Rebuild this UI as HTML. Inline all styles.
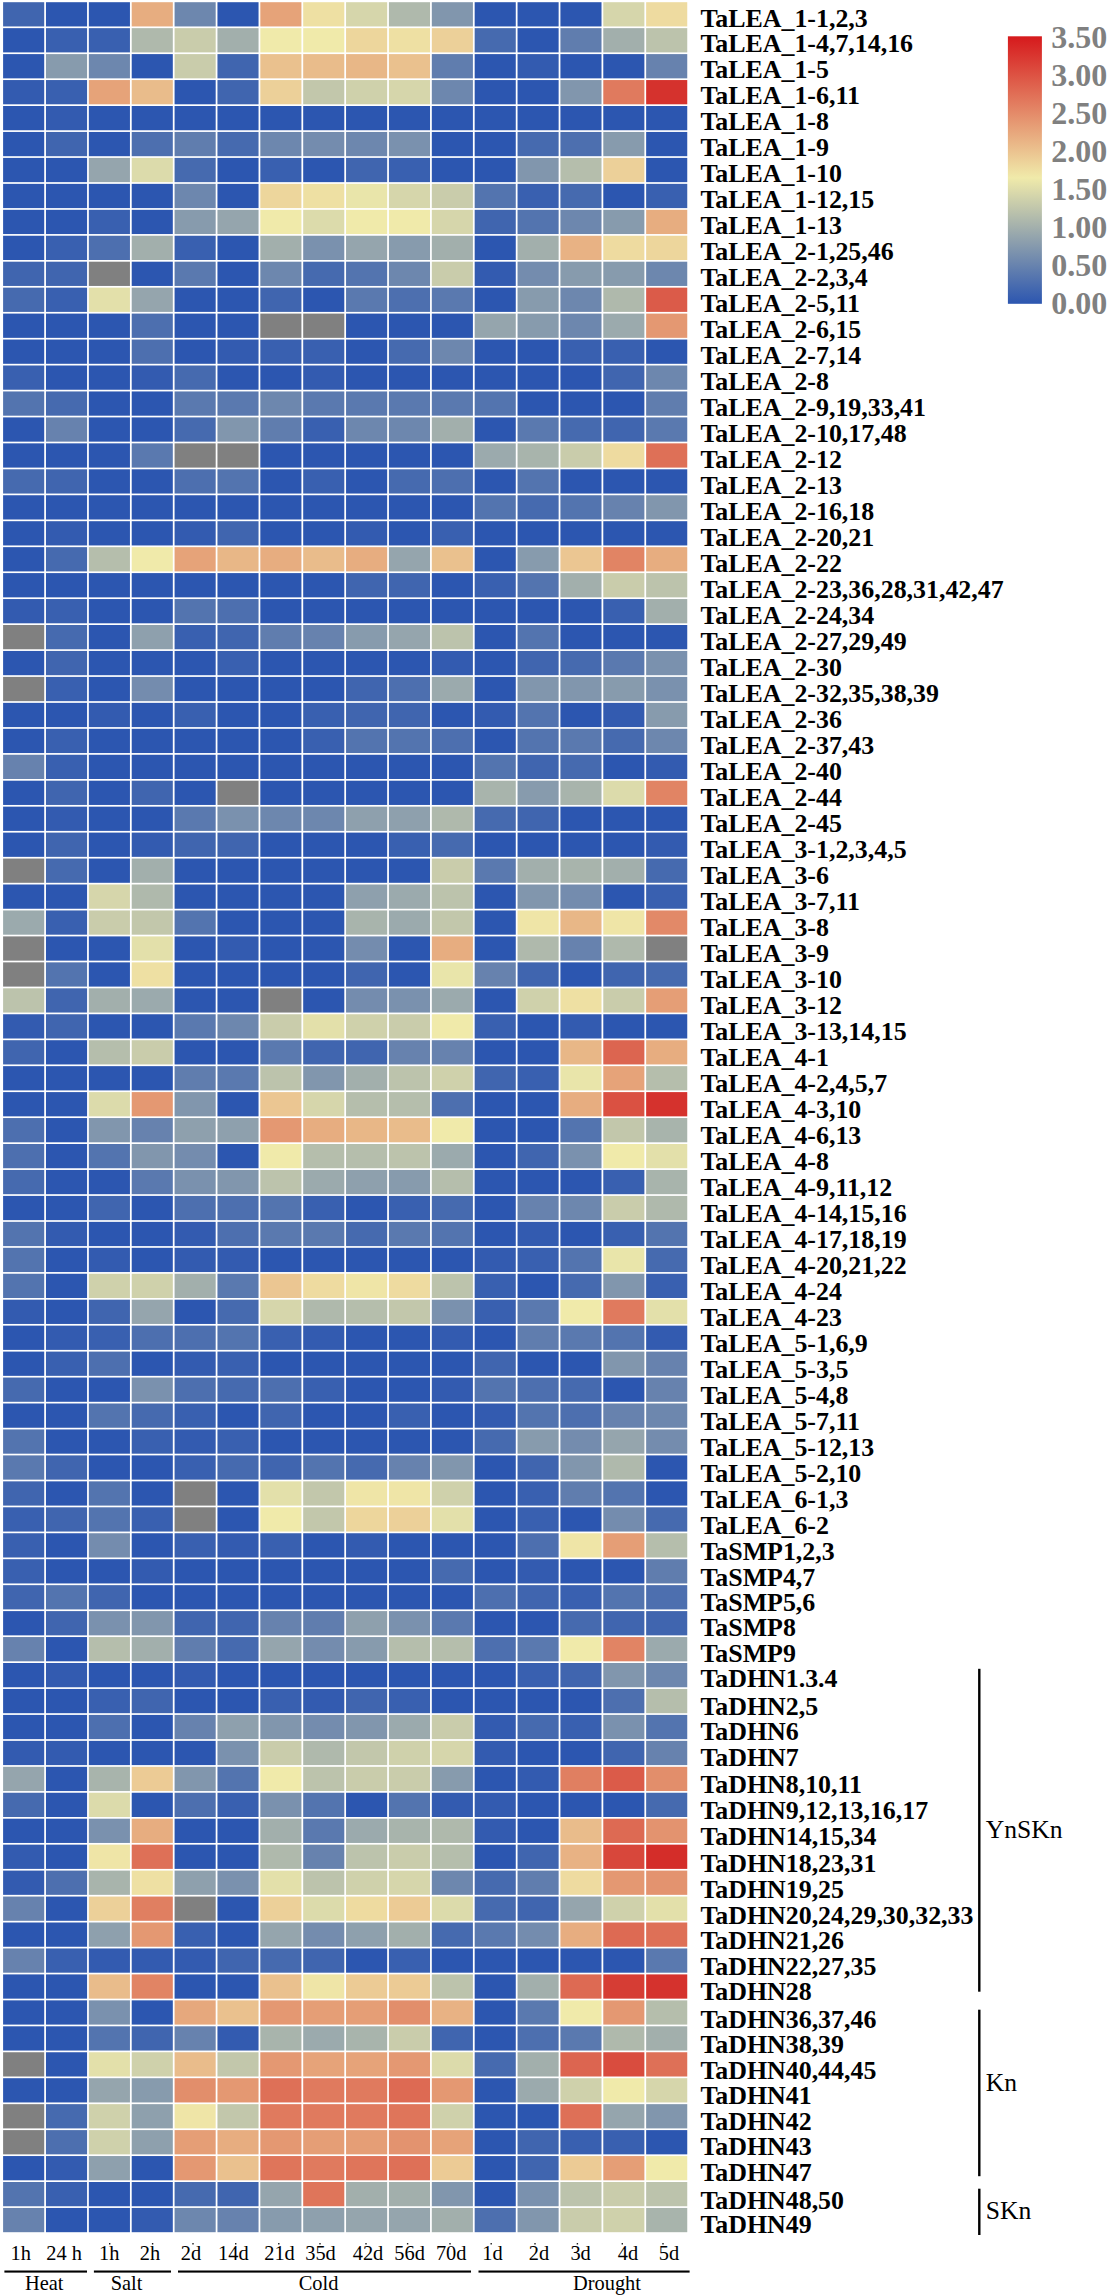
<!DOCTYPE html>
<html><head><meta charset="utf-8"><title>Heatmap</title>
<style>
html,body{margin:0;padding:0;background:#fff;}
svg{display:block;}
.rl{font-family:"Liberation Serif","Times New Roman",serif;font-weight:bold;font-size:25.9px;fill:#000;}
.ax{font-family:"Liberation Serif","Times New Roman",serif;font-size:20.4px;fill:#000;}
.gp{font-family:"Liberation Serif","Times New Roman",serif;font-size:25.6px;fill:#000;}
.cb{font-family:"Liberation Serif","Times New Roman",serif;font-weight:bold;font-size:32px;fill:#808080;}
</style></head><body>
<svg width="1107" height="2295" viewBox="0 0 1107 2295">
<rect width="1107" height="2295" fill="#fff"/>
<defs><linearGradient id="cbg" x1="0" y1="1" x2="0" y2="0"><stop offset="0" stop-color="#2c56b0"/><stop offset="0.471" stop-color="#f0eaaa"/><stop offset="1" stop-color="#d6191c"/></linearGradient></defs>
<g>
<rect x="3.10" y="2.20" width="41.1" height="24.25" fill="#4065af"/><rect x="45.97" y="2.20" width="41.1" height="24.25" fill="#2c56b0"/><rect x="88.84" y="2.20" width="41.1" height="24.25" fill="#2c56b0"/><rect x="131.71" y="2.20" width="41.1" height="24.25" fill="#e7ad80"/><rect x="174.58" y="2.20" width="41.1" height="24.25" fill="#6d87ae"/><rect x="217.45" y="2.20" width="41.1" height="24.25" fill="#2c56b0"/><rect x="260.32" y="2.20" width="41.1" height="24.25" fill="#e6a379"/><rect x="303.19" y="2.20" width="41.1" height="24.25" fill="#eee0a3"/><rect x="346.06" y="2.20" width="41.1" height="24.25" fill="#d6d6ab"/><rect x="388.93" y="2.20" width="41.1" height="24.25" fill="#afb9ac"/><rect x="431.80" y="2.20" width="41.1" height="24.25" fill="#8196ad"/><rect x="474.67" y="2.20" width="41.1" height="24.25" fill="#2c56b0"/><rect x="517.54" y="2.20" width="41.1" height="24.25" fill="#2c56b0"/><rect x="560.41" y="2.20" width="41.1" height="24.25" fill="#2c56b0"/><rect x="603.28" y="2.20" width="41.1" height="24.25" fill="#d6d6ab"/><rect x="646.15" y="2.20" width="41.1" height="24.25" fill="#eedba0"/>
<rect x="3.10" y="28.15" width="41.1" height="24.25" fill="#2c56b0"/><rect x="45.97" y="28.15" width="41.1" height="24.25" fill="#3960b0"/><rect x="88.84" y="28.15" width="41.1" height="24.25" fill="#3960b0"/><rect x="131.71" y="28.15" width="41.1" height="24.25" fill="#afb9ac"/><rect x="174.58" y="28.15" width="41.1" height="24.25" fill="#c9ccab"/><rect x="217.45" y="28.15" width="41.1" height="24.25" fill="#a2afac"/><rect x="260.32" y="28.15" width="41.1" height="24.25" fill="#f0eaaa"/><rect x="303.19" y="28.15" width="41.1" height="24.25" fill="#f0eaaa"/><rect x="346.06" y="28.15" width="41.1" height="24.25" fill="#edd69c"/><rect x="388.93" y="28.15" width="41.1" height="24.25" fill="#eee0a3"/><rect x="431.80" y="28.15" width="41.1" height="24.25" fill="#ecd099"/><rect x="474.67" y="28.15" width="41.1" height="24.25" fill="#466aaf"/><rect x="517.54" y="28.15" width="41.1" height="24.25" fill="#2c56b0"/><rect x="560.41" y="28.15" width="41.1" height="24.25" fill="#607dae"/><rect x="603.28" y="28.15" width="41.1" height="24.25" fill="#a2afac"/><rect x="646.15" y="28.15" width="41.1" height="24.25" fill="#bcc3ac"/>
<rect x="3.10" y="54.10" width="41.1" height="24.25" fill="#2c56b0"/><rect x="45.97" y="54.10" width="41.1" height="24.25" fill="#879bad"/><rect x="88.84" y="54.10" width="41.1" height="24.25" fill="#6d87ae"/><rect x="131.71" y="54.10" width="41.1" height="24.25" fill="#2c56b0"/><rect x="174.58" y="54.10" width="41.1" height="24.25" fill="#c9ccab"/><rect x="217.45" y="54.10" width="41.1" height="24.25" fill="#4065af"/><rect x="260.32" y="54.10" width="41.1" height="24.25" fill="#eac18e"/><rect x="303.19" y="54.10" width="41.1" height="24.25" fill="#e9bc8b"/><rect x="346.06" y="54.10" width="41.1" height="24.25" fill="#e8b787"/><rect x="388.93" y="54.10" width="41.1" height="24.25" fill="#eac18e"/><rect x="431.80" y="54.10" width="41.1" height="24.25" fill="#607dae"/><rect x="474.67" y="54.10" width="41.1" height="24.25" fill="#2c56b0"/><rect x="517.54" y="54.10" width="41.1" height="24.25" fill="#335bb0"/><rect x="560.41" y="54.10" width="41.1" height="24.25" fill="#2c56b0"/><rect x="603.28" y="54.10" width="41.1" height="24.25" fill="#2c56b0"/><rect x="646.15" y="54.10" width="41.1" height="24.25" fill="#6782ae"/>
<rect x="3.10" y="80.05" width="41.1" height="24.25" fill="#335bb0"/><rect x="45.97" y="80.05" width="41.1" height="24.25" fill="#3960b0"/><rect x="88.84" y="80.05" width="41.1" height="24.25" fill="#e6a379"/><rect x="131.71" y="80.05" width="41.1" height="24.25" fill="#e9bc8b"/><rect x="174.58" y="80.05" width="41.1" height="24.25" fill="#2c56b0"/><rect x="217.45" y="80.05" width="41.1" height="24.25" fill="#4065af"/><rect x="260.32" y="80.05" width="41.1" height="24.25" fill="#ecd099"/><rect x="303.19" y="80.05" width="41.1" height="24.25" fill="#c2c7ab"/><rect x="346.06" y="80.05" width="41.1" height="24.25" fill="#cfd1ab"/><rect x="388.93" y="80.05" width="41.1" height="24.25" fill="#d6d6ab"/><rect x="431.80" y="80.05" width="41.1" height="24.25" fill="#6d87ae"/><rect x="474.67" y="80.05" width="41.1" height="24.25" fill="#2c56b0"/><rect x="517.54" y="80.05" width="41.1" height="24.25" fill="#2c56b0"/><rect x="560.41" y="80.05" width="41.1" height="24.25" fill="#8196ad"/><rect x="603.28" y="80.05" width="41.1" height="24.25" fill="#e07a5e"/><rect x="646.15" y="80.05" width="41.1" height="24.25" fill="#d5322d"/>
<rect x="3.10" y="106.00" width="41.1" height="24.25" fill="#2c56b0"/><rect x="45.97" y="106.00" width="41.1" height="24.25" fill="#335bb0"/><rect x="88.84" y="106.00" width="41.1" height="24.25" fill="#2c56b0"/><rect x="131.71" y="106.00" width="41.1" height="24.25" fill="#2c56b0"/><rect x="174.58" y="106.00" width="41.1" height="24.25" fill="#2c56b0"/><rect x="217.45" y="106.00" width="41.1" height="24.25" fill="#2c56b0"/><rect x="260.32" y="106.00" width="41.1" height="24.25" fill="#2c56b0"/><rect x="303.19" y="106.00" width="41.1" height="24.25" fill="#2c56b0"/><rect x="346.06" y="106.00" width="41.1" height="24.25" fill="#2c56b0"/><rect x="388.93" y="106.00" width="41.1" height="24.25" fill="#2c56b0"/><rect x="431.80" y="106.00" width="41.1" height="24.25" fill="#2c56b0"/><rect x="474.67" y="106.00" width="41.1" height="24.25" fill="#2c56b0"/><rect x="517.54" y="106.00" width="41.1" height="24.25" fill="#2c56b0"/><rect x="560.41" y="106.00" width="41.1" height="24.25" fill="#2c56b0"/><rect x="603.28" y="106.00" width="41.1" height="24.25" fill="#2c56b0"/><rect x="646.15" y="106.00" width="41.1" height="24.25" fill="#2c56b0"/>
<rect x="3.10" y="131.95" width="41.1" height="24.25" fill="#2c56b0"/><rect x="45.97" y="131.95" width="41.1" height="24.25" fill="#4065af"/><rect x="88.84" y="131.95" width="41.1" height="24.25" fill="#2c56b0"/><rect x="131.71" y="131.95" width="41.1" height="24.25" fill="#4d6faf"/><rect x="174.58" y="131.95" width="41.1" height="24.25" fill="#607dae"/><rect x="217.45" y="131.95" width="41.1" height="24.25" fill="#466aaf"/><rect x="260.32" y="131.95" width="41.1" height="24.25" fill="#6d87ae"/><rect x="303.19" y="131.95" width="41.1" height="24.25" fill="#748cae"/><rect x="346.06" y="131.95" width="41.1" height="24.25" fill="#6d87ae"/><rect x="388.93" y="131.95" width="41.1" height="24.25" fill="#7a91ae"/><rect x="431.80" y="131.95" width="41.1" height="24.25" fill="#2c56b0"/><rect x="474.67" y="131.95" width="41.1" height="24.25" fill="#2c56b0"/><rect x="517.54" y="131.95" width="41.1" height="24.25" fill="#466aaf"/><rect x="560.41" y="131.95" width="41.1" height="24.25" fill="#4d6faf"/><rect x="603.28" y="131.95" width="41.1" height="24.25" fill="#879bad"/><rect x="646.15" y="131.95" width="41.1" height="24.25" fill="#2c56b0"/>
<rect x="3.10" y="157.90" width="41.1" height="24.25" fill="#2c56b0"/><rect x="45.97" y="157.90" width="41.1" height="24.25" fill="#2c56b0"/><rect x="88.84" y="157.90" width="41.1" height="24.25" fill="#95a5ad"/><rect x="131.71" y="157.90" width="41.1" height="24.25" fill="#dcdbab"/><rect x="174.58" y="157.90" width="41.1" height="24.25" fill="#466aaf"/><rect x="217.45" y="157.90" width="41.1" height="24.25" fill="#2c56b0"/><rect x="260.32" y="157.90" width="41.1" height="24.25" fill="#3960b0"/><rect x="303.19" y="157.90" width="41.1" height="24.25" fill="#2c56b0"/><rect x="346.06" y="157.90" width="41.1" height="24.25" fill="#4065af"/><rect x="388.93" y="157.90" width="41.1" height="24.25" fill="#3960b0"/><rect x="431.80" y="157.90" width="41.1" height="24.25" fill="#2c56b0"/><rect x="474.67" y="157.90" width="41.1" height="24.25" fill="#2c56b0"/><rect x="517.54" y="157.90" width="41.1" height="24.25" fill="#8196ad"/><rect x="560.41" y="157.90" width="41.1" height="24.25" fill="#b5beac"/><rect x="603.28" y="157.90" width="41.1" height="24.25" fill="#ecd099"/><rect x="646.15" y="157.90" width="41.1" height="24.25" fill="#2c56b0"/>
<rect x="3.10" y="183.85" width="41.1" height="24.25" fill="#2c56b0"/><rect x="45.97" y="183.85" width="41.1" height="24.25" fill="#2c56b0"/><rect x="88.84" y="183.85" width="41.1" height="24.25" fill="#2c56b0"/><rect x="131.71" y="183.85" width="41.1" height="24.25" fill="#2c56b0"/><rect x="174.58" y="183.85" width="41.1" height="24.25" fill="#6d87ae"/><rect x="217.45" y="183.85" width="41.1" height="24.25" fill="#2c56b0"/><rect x="260.32" y="183.85" width="41.1" height="24.25" fill="#edd69c"/><rect x="303.19" y="183.85" width="41.1" height="24.25" fill="#eee0a3"/><rect x="346.06" y="183.85" width="41.1" height="24.25" fill="#e9e5aa"/><rect x="388.93" y="183.85" width="41.1" height="24.25" fill="#d6d6ab"/><rect x="431.80" y="183.85" width="41.1" height="24.25" fill="#c9ccab"/><rect x="474.67" y="183.85" width="41.1" height="24.25" fill="#5374af"/><rect x="517.54" y="183.85" width="41.1" height="24.25" fill="#3960b0"/><rect x="560.41" y="183.85" width="41.1" height="24.25" fill="#466aaf"/><rect x="603.28" y="183.85" width="41.1" height="24.25" fill="#2c56b0"/><rect x="646.15" y="183.85" width="41.1" height="24.25" fill="#3960b0"/>
<rect x="3.10" y="209.80" width="41.1" height="24.25" fill="#2c56b0"/><rect x="45.97" y="209.80" width="41.1" height="24.25" fill="#2c56b0"/><rect x="88.84" y="209.80" width="41.1" height="24.25" fill="#3960b0"/><rect x="131.71" y="209.80" width="41.1" height="24.25" fill="#2c56b0"/><rect x="174.58" y="209.80" width="41.1" height="24.25" fill="#879bad"/><rect x="217.45" y="209.80" width="41.1" height="24.25" fill="#95a5ad"/><rect x="260.32" y="209.80" width="41.1" height="24.25" fill="#f0eaaa"/><rect x="303.19" y="209.80" width="41.1" height="24.25" fill="#dcdbab"/><rect x="346.06" y="209.80" width="41.1" height="24.25" fill="#f0eaaa"/><rect x="388.93" y="209.80" width="41.1" height="24.25" fill="#f0eaaa"/><rect x="431.80" y="209.80" width="41.1" height="24.25" fill="#d6d6ab"/><rect x="474.67" y="209.80" width="41.1" height="24.25" fill="#4065af"/><rect x="517.54" y="209.80" width="41.1" height="24.25" fill="#5374af"/><rect x="560.41" y="209.80" width="41.1" height="24.25" fill="#6d87ae"/><rect x="603.28" y="209.80" width="41.1" height="24.25" fill="#879bad"/><rect x="646.15" y="209.80" width="41.1" height="24.25" fill="#e7ad80"/>
<rect x="3.10" y="235.75" width="41.1" height="24.25" fill="#2c56b0"/><rect x="45.97" y="235.75" width="41.1" height="24.25" fill="#3960b0"/><rect x="88.84" y="235.75" width="41.1" height="24.25" fill="#4d6faf"/><rect x="131.71" y="235.75" width="41.1" height="24.25" fill="#a2afac"/><rect x="174.58" y="235.75" width="41.1" height="24.25" fill="#3960b0"/><rect x="217.45" y="235.75" width="41.1" height="24.25" fill="#2c56b0"/><rect x="260.32" y="235.75" width="41.1" height="24.25" fill="#a2afac"/><rect x="303.19" y="235.75" width="41.1" height="24.25" fill="#7a91ae"/><rect x="346.06" y="235.75" width="41.1" height="24.25" fill="#95a5ad"/><rect x="388.93" y="235.75" width="41.1" height="24.25" fill="#879bad"/><rect x="431.80" y="235.75" width="41.1" height="24.25" fill="#a2afac"/><rect x="474.67" y="235.75" width="41.1" height="24.25" fill="#2c56b0"/><rect x="517.54" y="235.75" width="41.1" height="24.25" fill="#a2afac"/><rect x="560.41" y="235.75" width="41.1" height="24.25" fill="#e8b284"/><rect x="603.28" y="235.75" width="41.1" height="24.25" fill="#eedba0"/><rect x="646.15" y="235.75" width="41.1" height="24.25" fill="#edd69c"/>
<rect x="3.10" y="261.70" width="41.1" height="24.25" fill="#4065af"/><rect x="45.97" y="261.70" width="41.1" height="24.25" fill="#4065af"/><rect x="88.84" y="261.70" width="41.1" height="24.25" fill="#808080"/><rect x="131.71" y="261.70" width="41.1" height="24.25" fill="#2c56b0"/><rect x="174.58" y="261.70" width="41.1" height="24.25" fill="#5a79af"/><rect x="217.45" y="261.70" width="41.1" height="24.25" fill="#2c56b0"/><rect x="260.32" y="261.70" width="41.1" height="24.25" fill="#6d87ae"/><rect x="303.19" y="261.70" width="41.1" height="24.25" fill="#466aaf"/><rect x="346.06" y="261.70" width="41.1" height="24.25" fill="#5374af"/><rect x="388.93" y="261.70" width="41.1" height="24.25" fill="#6d87ae"/><rect x="431.80" y="261.70" width="41.1" height="24.25" fill="#c9ccab"/><rect x="474.67" y="261.70" width="41.1" height="24.25" fill="#335bb0"/><rect x="517.54" y="261.70" width="41.1" height="24.25" fill="#748cae"/><rect x="560.41" y="261.70" width="41.1" height="24.25" fill="#879bad"/><rect x="603.28" y="261.70" width="41.1" height="24.25" fill="#879bad"/><rect x="646.15" y="261.70" width="41.1" height="24.25" fill="#6d87ae"/>
<rect x="3.10" y="287.65" width="41.1" height="24.25" fill="#466aaf"/><rect x="45.97" y="287.65" width="41.1" height="24.25" fill="#3960b0"/><rect x="88.84" y="287.65" width="41.1" height="24.25" fill="#e3e0aa"/><rect x="131.71" y="287.65" width="41.1" height="24.25" fill="#95a5ad"/><rect x="174.58" y="287.65" width="41.1" height="24.25" fill="#2c56b0"/><rect x="217.45" y="287.65" width="41.1" height="24.25" fill="#2c56b0"/><rect x="260.32" y="287.65" width="41.1" height="24.25" fill="#4065af"/><rect x="303.19" y="287.65" width="41.1" height="24.25" fill="#2c56b0"/><rect x="346.06" y="287.65" width="41.1" height="24.25" fill="#5a79af"/><rect x="388.93" y="287.65" width="41.1" height="24.25" fill="#4d6faf"/><rect x="431.80" y="287.65" width="41.1" height="24.25" fill="#5a79af"/><rect x="474.67" y="287.65" width="41.1" height="24.25" fill="#2c56b0"/><rect x="517.54" y="287.65" width="41.1" height="24.25" fill="#879bad"/><rect x="560.41" y="287.65" width="41.1" height="24.25" fill="#6d87ae"/><rect x="603.28" y="287.65" width="41.1" height="24.25" fill="#afb9ac"/><rect x="646.15" y="287.65" width="41.1" height="24.25" fill="#db5b49"/>
<rect x="3.10" y="313.60" width="41.1" height="24.25" fill="#2c56b0"/><rect x="45.97" y="313.60" width="41.1" height="24.25" fill="#2c56b0"/><rect x="88.84" y="313.60" width="41.1" height="24.25" fill="#2c56b0"/><rect x="131.71" y="313.60" width="41.1" height="24.25" fill="#4d6faf"/><rect x="174.58" y="313.60" width="41.1" height="24.25" fill="#2c56b0"/><rect x="217.45" y="313.60" width="41.1" height="24.25" fill="#2c56b0"/><rect x="260.32" y="313.60" width="41.1" height="24.25" fill="#808080"/><rect x="303.19" y="313.60" width="41.1" height="24.25" fill="#808080"/><rect x="346.06" y="313.60" width="41.1" height="24.25" fill="#2c56b0"/><rect x="388.93" y="313.60" width="41.1" height="24.25" fill="#2c56b0"/><rect x="431.80" y="313.60" width="41.1" height="24.25" fill="#2c56b0"/><rect x="474.67" y="313.60" width="41.1" height="24.25" fill="#95a5ad"/><rect x="517.54" y="313.60" width="41.1" height="24.25" fill="#879bad"/><rect x="560.41" y="313.60" width="41.1" height="24.25" fill="#6d87ae"/><rect x="603.28" y="313.60" width="41.1" height="24.25" fill="#9baaad"/><rect x="646.15" y="313.60" width="41.1" height="24.25" fill="#e49872"/>
<rect x="3.10" y="339.55" width="41.1" height="24.25" fill="#2c56b0"/><rect x="45.97" y="339.55" width="41.1" height="24.25" fill="#2c56b0"/><rect x="88.84" y="339.55" width="41.1" height="24.25" fill="#2c56b0"/><rect x="131.71" y="339.55" width="41.1" height="24.25" fill="#4d6faf"/><rect x="174.58" y="339.55" width="41.1" height="24.25" fill="#2c56b0"/><rect x="217.45" y="339.55" width="41.1" height="24.25" fill="#335bb0"/><rect x="260.32" y="339.55" width="41.1" height="24.25" fill="#3960b0"/><rect x="303.19" y="339.55" width="41.1" height="24.25" fill="#3960b0"/><rect x="346.06" y="339.55" width="41.1" height="24.25" fill="#2c56b0"/><rect x="388.93" y="339.55" width="41.1" height="24.25" fill="#466aaf"/><rect x="431.80" y="339.55" width="41.1" height="24.25" fill="#6d87ae"/><rect x="474.67" y="339.55" width="41.1" height="24.25" fill="#2c56b0"/><rect x="517.54" y="339.55" width="41.1" height="24.25" fill="#2c56b0"/><rect x="560.41" y="339.55" width="41.1" height="24.25" fill="#3960b0"/><rect x="603.28" y="339.55" width="41.1" height="24.25" fill="#3960b0"/><rect x="646.15" y="339.55" width="41.1" height="24.25" fill="#2c56b0"/>
<rect x="3.10" y="365.50" width="41.1" height="24.25" fill="#3960b0"/><rect x="45.97" y="365.50" width="41.1" height="24.25" fill="#2c56b0"/><rect x="88.84" y="365.50" width="41.1" height="24.25" fill="#2c56b0"/><rect x="131.71" y="365.50" width="41.1" height="24.25" fill="#335bb0"/><rect x="174.58" y="365.50" width="41.1" height="24.25" fill="#466aaf"/><rect x="217.45" y="365.50" width="41.1" height="24.25" fill="#2c56b0"/><rect x="260.32" y="365.50" width="41.1" height="24.25" fill="#2c56b0"/><rect x="303.19" y="365.50" width="41.1" height="24.25" fill="#335bb0"/><rect x="346.06" y="365.50" width="41.1" height="24.25" fill="#2c56b0"/><rect x="388.93" y="365.50" width="41.1" height="24.25" fill="#2c56b0"/><rect x="431.80" y="365.50" width="41.1" height="24.25" fill="#2c56b0"/><rect x="474.67" y="365.50" width="41.1" height="24.25" fill="#2c56b0"/><rect x="517.54" y="365.50" width="41.1" height="24.25" fill="#2c56b0"/><rect x="560.41" y="365.50" width="41.1" height="24.25" fill="#2c56b0"/><rect x="603.28" y="365.50" width="41.1" height="24.25" fill="#4065af"/><rect x="646.15" y="365.50" width="41.1" height="24.25" fill="#6d87ae"/>
<rect x="3.10" y="391.45" width="41.1" height="24.25" fill="#5374af"/><rect x="45.97" y="391.45" width="41.1" height="24.25" fill="#466aaf"/><rect x="88.84" y="391.45" width="41.1" height="24.25" fill="#2c56b0"/><rect x="131.71" y="391.45" width="41.1" height="24.25" fill="#2c56b0"/><rect x="174.58" y="391.45" width="41.1" height="24.25" fill="#5a79af"/><rect x="217.45" y="391.45" width="41.1" height="24.25" fill="#5a79af"/><rect x="260.32" y="391.45" width="41.1" height="24.25" fill="#6d87ae"/><rect x="303.19" y="391.45" width="41.1" height="24.25" fill="#5a79af"/><rect x="346.06" y="391.45" width="41.1" height="24.25" fill="#5a79af"/><rect x="388.93" y="391.45" width="41.1" height="24.25" fill="#5a79af"/><rect x="431.80" y="391.45" width="41.1" height="24.25" fill="#5a79af"/><rect x="474.67" y="391.45" width="41.1" height="24.25" fill="#5374af"/><rect x="517.54" y="391.45" width="41.1" height="24.25" fill="#2c56b0"/><rect x="560.41" y="391.45" width="41.1" height="24.25" fill="#2c56b0"/><rect x="603.28" y="391.45" width="41.1" height="24.25" fill="#2c56b0"/><rect x="646.15" y="391.45" width="41.1" height="24.25" fill="#607dae"/>
<rect x="3.10" y="417.40" width="41.1" height="24.25" fill="#2c56b0"/><rect x="45.97" y="417.40" width="41.1" height="24.25" fill="#6782ae"/><rect x="88.84" y="417.40" width="41.1" height="24.25" fill="#2c56b0"/><rect x="131.71" y="417.40" width="41.1" height="24.25" fill="#2c56b0"/><rect x="174.58" y="417.40" width="41.1" height="24.25" fill="#466aaf"/><rect x="217.45" y="417.40" width="41.1" height="24.25" fill="#8196ad"/><rect x="260.32" y="417.40" width="41.1" height="24.25" fill="#607dae"/><rect x="303.19" y="417.40" width="41.1" height="24.25" fill="#3960b0"/><rect x="346.06" y="417.40" width="41.1" height="24.25" fill="#6d87ae"/><rect x="388.93" y="417.40" width="41.1" height="24.25" fill="#6d87ae"/><rect x="431.80" y="417.40" width="41.1" height="24.25" fill="#a2afac"/><rect x="474.67" y="417.40" width="41.1" height="24.25" fill="#2c56b0"/><rect x="517.54" y="417.40" width="41.1" height="24.25" fill="#5a79af"/><rect x="560.41" y="417.40" width="41.1" height="24.25" fill="#466aaf"/><rect x="603.28" y="417.40" width="41.1" height="24.25" fill="#4065af"/><rect x="646.15" y="417.40" width="41.1" height="24.25" fill="#5a79af"/>
<rect x="3.10" y="443.35" width="41.1" height="24.25" fill="#2c56b0"/><rect x="45.97" y="443.35" width="41.1" height="24.25" fill="#2c56b0"/><rect x="88.84" y="443.35" width="41.1" height="24.25" fill="#2c56b0"/><rect x="131.71" y="443.35" width="41.1" height="24.25" fill="#5a79af"/><rect x="174.58" y="443.35" width="41.1" height="24.25" fill="#808080"/><rect x="217.45" y="443.35" width="41.1" height="24.25" fill="#808080"/><rect x="260.32" y="443.35" width="41.1" height="24.25" fill="#2c56b0"/><rect x="303.19" y="443.35" width="41.1" height="24.25" fill="#2c56b0"/><rect x="346.06" y="443.35" width="41.1" height="24.25" fill="#2c56b0"/><rect x="388.93" y="443.35" width="41.1" height="24.25" fill="#2c56b0"/><rect x="431.80" y="443.35" width="41.1" height="24.25" fill="#2c56b0"/><rect x="474.67" y="443.35" width="41.1" height="24.25" fill="#9baaad"/><rect x="517.54" y="443.35" width="41.1" height="24.25" fill="#a8b4ac"/><rect x="560.41" y="443.35" width="41.1" height="24.25" fill="#c9ccab"/><rect x="603.28" y="443.35" width="41.1" height="24.25" fill="#eedba0"/><rect x="646.15" y="443.35" width="41.1" height="24.25" fill="#de7057"/>
<rect x="3.10" y="469.30" width="41.1" height="24.25" fill="#466aaf"/><rect x="45.97" y="469.30" width="41.1" height="24.25" fill="#4065af"/><rect x="88.84" y="469.30" width="41.1" height="24.25" fill="#2c56b0"/><rect x="131.71" y="469.30" width="41.1" height="24.25" fill="#2c56b0"/><rect x="174.58" y="469.30" width="41.1" height="24.25" fill="#4d6faf"/><rect x="217.45" y="469.30" width="41.1" height="24.25" fill="#5374af"/><rect x="260.32" y="469.30" width="41.1" height="24.25" fill="#2c56b0"/><rect x="303.19" y="469.30" width="41.1" height="24.25" fill="#3960b0"/><rect x="346.06" y="469.30" width="41.1" height="24.25" fill="#2c56b0"/><rect x="388.93" y="469.30" width="41.1" height="24.25" fill="#466aaf"/><rect x="431.80" y="469.30" width="41.1" height="24.25" fill="#4d6faf"/><rect x="474.67" y="469.30" width="41.1" height="24.25" fill="#2c56b0"/><rect x="517.54" y="469.30" width="41.1" height="24.25" fill="#5374af"/><rect x="560.41" y="469.30" width="41.1" height="24.25" fill="#2c56b0"/><rect x="603.28" y="469.30" width="41.1" height="24.25" fill="#2c56b0"/><rect x="646.15" y="469.30" width="41.1" height="24.25" fill="#2c56b0"/>
<rect x="3.10" y="495.25" width="41.1" height="24.25" fill="#2c56b0"/><rect x="45.97" y="495.25" width="41.1" height="24.25" fill="#2c56b0"/><rect x="88.84" y="495.25" width="41.1" height="24.25" fill="#2c56b0"/><rect x="131.71" y="495.25" width="41.1" height="24.25" fill="#2c56b0"/><rect x="174.58" y="495.25" width="41.1" height="24.25" fill="#2c56b0"/><rect x="217.45" y="495.25" width="41.1" height="24.25" fill="#2c56b0"/><rect x="260.32" y="495.25" width="41.1" height="24.25" fill="#2c56b0"/><rect x="303.19" y="495.25" width="41.1" height="24.25" fill="#2c56b0"/><rect x="346.06" y="495.25" width="41.1" height="24.25" fill="#2c56b0"/><rect x="388.93" y="495.25" width="41.1" height="24.25" fill="#2c56b0"/><rect x="431.80" y="495.25" width="41.1" height="24.25" fill="#2c56b0"/><rect x="474.67" y="495.25" width="41.1" height="24.25" fill="#5374af"/><rect x="517.54" y="495.25" width="41.1" height="24.25" fill="#466aaf"/><rect x="560.41" y="495.25" width="41.1" height="24.25" fill="#5374af"/><rect x="603.28" y="495.25" width="41.1" height="24.25" fill="#6782ae"/><rect x="646.15" y="495.25" width="41.1" height="24.25" fill="#8196ad"/>
<rect x="3.10" y="521.20" width="41.1" height="24.25" fill="#2c56b0"/><rect x="45.97" y="521.20" width="41.1" height="24.25" fill="#335bb0"/><rect x="88.84" y="521.20" width="41.1" height="24.25" fill="#2c56b0"/><rect x="131.71" y="521.20" width="41.1" height="24.25" fill="#2c56b0"/><rect x="174.58" y="521.20" width="41.1" height="24.25" fill="#335bb0"/><rect x="217.45" y="521.20" width="41.1" height="24.25" fill="#4065af"/><rect x="260.32" y="521.20" width="41.1" height="24.25" fill="#2c56b0"/><rect x="303.19" y="521.20" width="41.1" height="24.25" fill="#2c56b0"/><rect x="346.06" y="521.20" width="41.1" height="24.25" fill="#335bb0"/><rect x="388.93" y="521.20" width="41.1" height="24.25" fill="#2c56b0"/><rect x="431.80" y="521.20" width="41.1" height="24.25" fill="#3960b0"/><rect x="474.67" y="521.20" width="41.1" height="24.25" fill="#2c56b0"/><rect x="517.54" y="521.20" width="41.1" height="24.25" fill="#2c56b0"/><rect x="560.41" y="521.20" width="41.1" height="24.25" fill="#2c56b0"/><rect x="603.28" y="521.20" width="41.1" height="24.25" fill="#2c56b0"/><rect x="646.15" y="521.20" width="41.1" height="24.25" fill="#2c56b0"/>
<rect x="3.10" y="547.15" width="41.1" height="24.25" fill="#2c56b0"/><rect x="45.97" y="547.15" width="41.1" height="24.25" fill="#466aaf"/><rect x="88.84" y="547.15" width="41.1" height="24.25" fill="#b5beac"/><rect x="131.71" y="547.15" width="41.1" height="24.25" fill="#f0eaaa"/><rect x="174.58" y="547.15" width="41.1" height="24.25" fill="#e6a379"/><rect x="217.45" y="547.15" width="41.1" height="24.25" fill="#e8b787"/><rect x="260.32" y="547.15" width="41.1" height="24.25" fill="#e7ad80"/><rect x="303.19" y="547.15" width="41.1" height="24.25" fill="#e9bc8b"/><rect x="346.06" y="547.15" width="41.1" height="24.25" fill="#e7ad80"/><rect x="388.93" y="547.15" width="41.1" height="24.25" fill="#95a5ad"/><rect x="431.80" y="547.15" width="41.1" height="24.25" fill="#eac18e"/><rect x="474.67" y="547.15" width="41.1" height="24.25" fill="#2c56b0"/><rect x="517.54" y="547.15" width="41.1" height="24.25" fill="#879bad"/><rect x="560.41" y="547.15" width="41.1" height="24.25" fill="#ebc692"/><rect x="603.28" y="547.15" width="41.1" height="24.25" fill="#e18464"/><rect x="646.15" y="547.15" width="41.1" height="24.25" fill="#e7ad80"/>
<rect x="3.10" y="573.10" width="41.1" height="24.25" fill="#2c56b0"/><rect x="45.97" y="573.10" width="41.1" height="24.25" fill="#2c56b0"/><rect x="88.84" y="573.10" width="41.1" height="24.25" fill="#2c56b0"/><rect x="131.71" y="573.10" width="41.1" height="24.25" fill="#2c56b0"/><rect x="174.58" y="573.10" width="41.1" height="24.25" fill="#2c56b0"/><rect x="217.45" y="573.10" width="41.1" height="24.25" fill="#2c56b0"/><rect x="260.32" y="573.10" width="41.1" height="24.25" fill="#2c56b0"/><rect x="303.19" y="573.10" width="41.1" height="24.25" fill="#2c56b0"/><rect x="346.06" y="573.10" width="41.1" height="24.25" fill="#4065af"/><rect x="388.93" y="573.10" width="41.1" height="24.25" fill="#4065af"/><rect x="431.80" y="573.10" width="41.1" height="24.25" fill="#2c56b0"/><rect x="474.67" y="573.10" width="41.1" height="24.25" fill="#3960b0"/><rect x="517.54" y="573.10" width="41.1" height="24.25" fill="#5374af"/><rect x="560.41" y="573.10" width="41.1" height="24.25" fill="#a2afac"/><rect x="603.28" y="573.10" width="41.1" height="24.25" fill="#c9ccab"/><rect x="646.15" y="573.10" width="41.1" height="24.25" fill="#bcc3ac"/>
<rect x="3.10" y="599.05" width="41.1" height="24.25" fill="#335bb0"/><rect x="45.97" y="599.05" width="41.1" height="24.25" fill="#3960b0"/><rect x="88.84" y="599.05" width="41.1" height="24.25" fill="#2c56b0"/><rect x="131.71" y="599.05" width="41.1" height="24.25" fill="#2c56b0"/><rect x="174.58" y="599.05" width="41.1" height="24.25" fill="#5374af"/><rect x="217.45" y="599.05" width="41.1" height="24.25" fill="#4d6faf"/><rect x="260.32" y="599.05" width="41.1" height="24.25" fill="#2c56b0"/><rect x="303.19" y="599.05" width="41.1" height="24.25" fill="#2c56b0"/><rect x="346.06" y="599.05" width="41.1" height="24.25" fill="#2c56b0"/><rect x="388.93" y="599.05" width="41.1" height="24.25" fill="#2c56b0"/><rect x="431.80" y="599.05" width="41.1" height="24.25" fill="#2c56b0"/><rect x="474.67" y="599.05" width="41.1" height="24.25" fill="#2c56b0"/><rect x="517.54" y="599.05" width="41.1" height="24.25" fill="#2c56b0"/><rect x="560.41" y="599.05" width="41.1" height="24.25" fill="#2c56b0"/><rect x="603.28" y="599.05" width="41.1" height="24.25" fill="#3960b0"/><rect x="646.15" y="599.05" width="41.1" height="24.25" fill="#a2afac"/>
<rect x="3.10" y="625.00" width="41.1" height="24.25" fill="#808080"/><rect x="45.97" y="625.00" width="41.1" height="24.25" fill="#466aaf"/><rect x="88.84" y="625.00" width="41.1" height="24.25" fill="#2c56b0"/><rect x="131.71" y="625.00" width="41.1" height="24.25" fill="#8ea0ad"/><rect x="174.58" y="625.00" width="41.1" height="24.25" fill="#3960b0"/><rect x="217.45" y="625.00" width="41.1" height="24.25" fill="#4065af"/><rect x="260.32" y="625.00" width="41.1" height="24.25" fill="#607dae"/><rect x="303.19" y="625.00" width="41.1" height="24.25" fill="#6782ae"/><rect x="346.06" y="625.00" width="41.1" height="24.25" fill="#879bad"/><rect x="388.93" y="625.00" width="41.1" height="24.25" fill="#95a5ad"/><rect x="431.80" y="625.00" width="41.1" height="24.25" fill="#bcc3ac"/><rect x="474.67" y="625.00" width="41.1" height="24.25" fill="#2c56b0"/><rect x="517.54" y="625.00" width="41.1" height="24.25" fill="#5374af"/><rect x="560.41" y="625.00" width="41.1" height="24.25" fill="#2c56b0"/><rect x="603.28" y="625.00" width="41.1" height="24.25" fill="#2c56b0"/><rect x="646.15" y="625.00" width="41.1" height="24.25" fill="#2c56b0"/>
<rect x="3.10" y="650.95" width="41.1" height="24.25" fill="#2c56b0"/><rect x="45.97" y="650.95" width="41.1" height="24.25" fill="#4065af"/><rect x="88.84" y="650.95" width="41.1" height="24.25" fill="#2c56b0"/><rect x="131.71" y="650.95" width="41.1" height="24.25" fill="#2c56b0"/><rect x="174.58" y="650.95" width="41.1" height="24.25" fill="#2c56b0"/><rect x="217.45" y="650.95" width="41.1" height="24.25" fill="#3960b0"/><rect x="260.32" y="650.95" width="41.1" height="24.25" fill="#2c56b0"/><rect x="303.19" y="650.95" width="41.1" height="24.25" fill="#2c56b0"/><rect x="346.06" y="650.95" width="41.1" height="24.25" fill="#2c56b0"/><rect x="388.93" y="650.95" width="41.1" height="24.25" fill="#2c56b0"/><rect x="431.80" y="650.95" width="41.1" height="24.25" fill="#335bb0"/><rect x="474.67" y="650.95" width="41.1" height="24.25" fill="#2c56b0"/><rect x="517.54" y="650.95" width="41.1" height="24.25" fill="#4065af"/><rect x="560.41" y="650.95" width="41.1" height="24.25" fill="#466aaf"/><rect x="603.28" y="650.95" width="41.1" height="24.25" fill="#5a79af"/><rect x="646.15" y="650.95" width="41.1" height="24.25" fill="#7a91ae"/>
<rect x="3.10" y="676.90" width="41.1" height="24.25" fill="#808080"/><rect x="45.97" y="676.90" width="41.1" height="24.25" fill="#3960b0"/><rect x="88.84" y="676.90" width="41.1" height="24.25" fill="#2c56b0"/><rect x="131.71" y="676.90" width="41.1" height="24.25" fill="#748cae"/><rect x="174.58" y="676.90" width="41.1" height="24.25" fill="#2c56b0"/><rect x="217.45" y="676.90" width="41.1" height="24.25" fill="#2c56b0"/><rect x="260.32" y="676.90" width="41.1" height="24.25" fill="#2c56b0"/><rect x="303.19" y="676.90" width="41.1" height="24.25" fill="#2c56b0"/><rect x="346.06" y="676.90" width="41.1" height="24.25" fill="#4065af"/><rect x="388.93" y="676.90" width="41.1" height="24.25" fill="#4d6faf"/><rect x="431.80" y="676.90" width="41.1" height="24.25" fill="#9baaad"/><rect x="474.67" y="676.90" width="41.1" height="24.25" fill="#2c56b0"/><rect x="517.54" y="676.90" width="41.1" height="24.25" fill="#8196ad"/><rect x="560.41" y="676.90" width="41.1" height="24.25" fill="#8196ad"/><rect x="603.28" y="676.90" width="41.1" height="24.25" fill="#879bad"/><rect x="646.15" y="676.90" width="41.1" height="24.25" fill="#7a91ae"/>
<rect x="3.10" y="702.85" width="41.1" height="24.25" fill="#2c56b0"/><rect x="45.97" y="702.85" width="41.1" height="24.25" fill="#2c56b0"/><rect x="88.84" y="702.85" width="41.1" height="24.25" fill="#335bb0"/><rect x="131.71" y="702.85" width="41.1" height="24.25" fill="#2c56b0"/><rect x="174.58" y="702.85" width="41.1" height="24.25" fill="#3960b0"/><rect x="217.45" y="702.85" width="41.1" height="24.25" fill="#2c56b0"/><rect x="260.32" y="702.85" width="41.1" height="24.25" fill="#2c56b0"/><rect x="303.19" y="702.85" width="41.1" height="24.25" fill="#3960b0"/><rect x="346.06" y="702.85" width="41.1" height="24.25" fill="#4065af"/><rect x="388.93" y="702.85" width="41.1" height="24.25" fill="#4065af"/><rect x="431.80" y="702.85" width="41.1" height="24.25" fill="#2c56b0"/><rect x="474.67" y="702.85" width="41.1" height="24.25" fill="#335bb0"/><rect x="517.54" y="702.85" width="41.1" height="24.25" fill="#5374af"/><rect x="560.41" y="702.85" width="41.1" height="24.25" fill="#2c56b0"/><rect x="603.28" y="702.85" width="41.1" height="24.25" fill="#335bb0"/><rect x="646.15" y="702.85" width="41.1" height="24.25" fill="#879bad"/>
<rect x="3.10" y="728.80" width="41.1" height="24.25" fill="#2c56b0"/><rect x="45.97" y="728.80" width="41.1" height="24.25" fill="#3960b0"/><rect x="88.84" y="728.80" width="41.1" height="24.25" fill="#2c56b0"/><rect x="131.71" y="728.80" width="41.1" height="24.25" fill="#2c56b0"/><rect x="174.58" y="728.80" width="41.1" height="24.25" fill="#2c56b0"/><rect x="217.45" y="728.80" width="41.1" height="24.25" fill="#2c56b0"/><rect x="260.32" y="728.80" width="41.1" height="24.25" fill="#2c56b0"/><rect x="303.19" y="728.80" width="41.1" height="24.25" fill="#3960b0"/><rect x="346.06" y="728.80" width="41.1" height="24.25" fill="#5374af"/><rect x="388.93" y="728.80" width="41.1" height="24.25" fill="#5374af"/><rect x="431.80" y="728.80" width="41.1" height="24.25" fill="#4d6faf"/><rect x="474.67" y="728.80" width="41.1" height="24.25" fill="#2c56b0"/><rect x="517.54" y="728.80" width="41.1" height="24.25" fill="#5374af"/><rect x="560.41" y="728.80" width="41.1" height="24.25" fill="#5a79af"/><rect x="603.28" y="728.80" width="41.1" height="24.25" fill="#466aaf"/><rect x="646.15" y="728.80" width="41.1" height="24.25" fill="#6d87ae"/>
<rect x="3.10" y="754.75" width="41.1" height="24.25" fill="#6782ae"/><rect x="45.97" y="754.75" width="41.1" height="24.25" fill="#3960b0"/><rect x="88.84" y="754.75" width="41.1" height="24.25" fill="#2c56b0"/><rect x="131.71" y="754.75" width="41.1" height="24.25" fill="#2c56b0"/><rect x="174.58" y="754.75" width="41.1" height="24.25" fill="#2c56b0"/><rect x="217.45" y="754.75" width="41.1" height="24.25" fill="#2c56b0"/><rect x="260.32" y="754.75" width="41.1" height="24.25" fill="#2c56b0"/><rect x="303.19" y="754.75" width="41.1" height="24.25" fill="#2c56b0"/><rect x="346.06" y="754.75" width="41.1" height="24.25" fill="#2c56b0"/><rect x="388.93" y="754.75" width="41.1" height="24.25" fill="#2c56b0"/><rect x="431.80" y="754.75" width="41.1" height="24.25" fill="#2c56b0"/><rect x="474.67" y="754.75" width="41.1" height="24.25" fill="#5374af"/><rect x="517.54" y="754.75" width="41.1" height="24.25" fill="#4065af"/><rect x="560.41" y="754.75" width="41.1" height="24.25" fill="#466aaf"/><rect x="603.28" y="754.75" width="41.1" height="24.25" fill="#2c56b0"/><rect x="646.15" y="754.75" width="41.1" height="24.25" fill="#335bb0"/>
<rect x="3.10" y="780.70" width="41.1" height="24.25" fill="#2c56b0"/><rect x="45.97" y="780.70" width="41.1" height="24.25" fill="#4065af"/><rect x="88.84" y="780.70" width="41.1" height="24.25" fill="#2c56b0"/><rect x="131.71" y="780.70" width="41.1" height="24.25" fill="#4065af"/><rect x="174.58" y="780.70" width="41.1" height="24.25" fill="#2c56b0"/><rect x="217.45" y="780.70" width="41.1" height="24.25" fill="#808080"/><rect x="260.32" y="780.70" width="41.1" height="24.25" fill="#2c56b0"/><rect x="303.19" y="780.70" width="41.1" height="24.25" fill="#2c56b0"/><rect x="346.06" y="780.70" width="41.1" height="24.25" fill="#2c56b0"/><rect x="388.93" y="780.70" width="41.1" height="24.25" fill="#2c56b0"/><rect x="431.80" y="780.70" width="41.1" height="24.25" fill="#2c56b0"/><rect x="474.67" y="780.70" width="41.1" height="24.25" fill="#a8b4ac"/><rect x="517.54" y="780.70" width="41.1" height="24.25" fill="#879bad"/><rect x="560.41" y="780.70" width="41.1" height="24.25" fill="#a8b4ac"/><rect x="603.28" y="780.70" width="41.1" height="24.25" fill="#dcdbab"/><rect x="646.15" y="780.70" width="41.1" height="24.25" fill="#e18464"/>
<rect x="3.10" y="806.65" width="41.1" height="24.25" fill="#2c56b0"/><rect x="45.97" y="806.65" width="41.1" height="24.25" fill="#335bb0"/><rect x="88.84" y="806.65" width="41.1" height="24.25" fill="#2c56b0"/><rect x="131.71" y="806.65" width="41.1" height="24.25" fill="#2c56b0"/><rect x="174.58" y="806.65" width="41.1" height="24.25" fill="#5a79af"/><rect x="217.45" y="806.65" width="41.1" height="24.25" fill="#7a91ae"/><rect x="260.32" y="806.65" width="41.1" height="24.25" fill="#6d87ae"/><rect x="303.19" y="806.65" width="41.1" height="24.25" fill="#6d87ae"/><rect x="346.06" y="806.65" width="41.1" height="24.25" fill="#8ea0ad"/><rect x="388.93" y="806.65" width="41.1" height="24.25" fill="#8ea0ad"/><rect x="431.80" y="806.65" width="41.1" height="24.25" fill="#afb9ac"/><rect x="474.67" y="806.65" width="41.1" height="24.25" fill="#466aaf"/><rect x="517.54" y="806.65" width="41.1" height="24.25" fill="#4065af"/><rect x="560.41" y="806.65" width="41.1" height="24.25" fill="#2c56b0"/><rect x="603.28" y="806.65" width="41.1" height="24.25" fill="#2c56b0"/><rect x="646.15" y="806.65" width="41.1" height="24.25" fill="#2c56b0"/>
<rect x="3.10" y="832.60" width="41.1" height="24.25" fill="#2c56b0"/><rect x="45.97" y="832.60" width="41.1" height="24.25" fill="#4065af"/><rect x="88.84" y="832.60" width="41.1" height="24.25" fill="#2c56b0"/><rect x="131.71" y="832.60" width="41.1" height="24.25" fill="#335bb0"/><rect x="174.58" y="832.60" width="41.1" height="24.25" fill="#4065af"/><rect x="217.45" y="832.60" width="41.1" height="24.25" fill="#4065af"/><rect x="260.32" y="832.60" width="41.1" height="24.25" fill="#2c56b0"/><rect x="303.19" y="832.60" width="41.1" height="24.25" fill="#2c56b0"/><rect x="346.06" y="832.60" width="41.1" height="24.25" fill="#2c56b0"/><rect x="388.93" y="832.60" width="41.1" height="24.25" fill="#3960b0"/><rect x="431.80" y="832.60" width="41.1" height="24.25" fill="#466aaf"/><rect x="474.67" y="832.60" width="41.1" height="24.25" fill="#2c56b0"/><rect x="517.54" y="832.60" width="41.1" height="24.25" fill="#2c56b0"/><rect x="560.41" y="832.60" width="41.1" height="24.25" fill="#2c56b0"/><rect x="603.28" y="832.60" width="41.1" height="24.25" fill="#2c56b0"/><rect x="646.15" y="832.60" width="41.1" height="24.25" fill="#335bb0"/>
<rect x="3.10" y="858.55" width="41.1" height="24.25" fill="#808080"/><rect x="45.97" y="858.55" width="41.1" height="24.25" fill="#466aaf"/><rect x="88.84" y="858.55" width="41.1" height="24.25" fill="#2c56b0"/><rect x="131.71" y="858.55" width="41.1" height="24.25" fill="#a2afac"/><rect x="174.58" y="858.55" width="41.1" height="24.25" fill="#2c56b0"/><rect x="217.45" y="858.55" width="41.1" height="24.25" fill="#2c56b0"/><rect x="260.32" y="858.55" width="41.1" height="24.25" fill="#2c56b0"/><rect x="303.19" y="858.55" width="41.1" height="24.25" fill="#2c56b0"/><rect x="346.06" y="858.55" width="41.1" height="24.25" fill="#2c56b0"/><rect x="388.93" y="858.55" width="41.1" height="24.25" fill="#2c56b0"/><rect x="431.80" y="858.55" width="41.1" height="24.25" fill="#c9ccab"/><rect x="474.67" y="858.55" width="41.1" height="24.25" fill="#5a79af"/><rect x="517.54" y="858.55" width="41.1" height="24.25" fill="#a2afac"/><rect x="560.41" y="858.55" width="41.1" height="24.25" fill="#a8b4ac"/><rect x="603.28" y="858.55" width="41.1" height="24.25" fill="#a2afac"/><rect x="646.15" y="858.55" width="41.1" height="24.25" fill="#466aaf"/>
<rect x="3.10" y="884.50" width="41.1" height="24.25" fill="#2c56b0"/><rect x="45.97" y="884.50" width="41.1" height="24.25" fill="#2c56b0"/><rect x="88.84" y="884.50" width="41.1" height="24.25" fill="#d6d6ab"/><rect x="131.71" y="884.50" width="41.1" height="24.25" fill="#afb9ac"/><rect x="174.58" y="884.50" width="41.1" height="24.25" fill="#2c56b0"/><rect x="217.45" y="884.50" width="41.1" height="24.25" fill="#2c56b0"/><rect x="260.32" y="884.50" width="41.1" height="24.25" fill="#2c56b0"/><rect x="303.19" y="884.50" width="41.1" height="24.25" fill="#2c56b0"/><rect x="346.06" y="884.50" width="41.1" height="24.25" fill="#8ea0ad"/><rect x="388.93" y="884.50" width="41.1" height="24.25" fill="#9baaad"/><rect x="431.80" y="884.50" width="41.1" height="24.25" fill="#bcc3ac"/><rect x="474.67" y="884.50" width="41.1" height="24.25" fill="#2c56b0"/><rect x="517.54" y="884.50" width="41.1" height="24.25" fill="#8196ad"/><rect x="560.41" y="884.50" width="41.1" height="24.25" fill="#748cae"/><rect x="603.28" y="884.50" width="41.1" height="24.25" fill="#2c56b0"/><rect x="646.15" y="884.50" width="41.1" height="24.25" fill="#3960b0"/>
<rect x="3.10" y="910.45" width="41.1" height="24.25" fill="#9baaad"/><rect x="45.97" y="910.45" width="41.1" height="24.25" fill="#3960b0"/><rect x="88.84" y="910.45" width="41.1" height="24.25" fill="#c9ccab"/><rect x="131.71" y="910.45" width="41.1" height="24.25" fill="#c2c7ab"/><rect x="174.58" y="910.45" width="41.1" height="24.25" fill="#5374af"/><rect x="217.45" y="910.45" width="41.1" height="24.25" fill="#2c56b0"/><rect x="260.32" y="910.45" width="41.1" height="24.25" fill="#2c56b0"/><rect x="303.19" y="910.45" width="41.1" height="24.25" fill="#2c56b0"/><rect x="346.06" y="910.45" width="41.1" height="24.25" fill="#a8b4ac"/><rect x="388.93" y="910.45" width="41.1" height="24.25" fill="#9baaad"/><rect x="431.80" y="910.45" width="41.1" height="24.25" fill="#c2c7ab"/><rect x="474.67" y="910.45" width="41.1" height="24.25" fill="#2c56b0"/><rect x="517.54" y="910.45" width="41.1" height="24.25" fill="#efe5a7"/><rect x="560.41" y="910.45" width="41.1" height="24.25" fill="#e8b787"/><rect x="603.28" y="910.45" width="41.1" height="24.25" fill="#efe5a7"/><rect x="646.15" y="910.45" width="41.1" height="24.25" fill="#e28968"/>
<rect x="3.10" y="936.40" width="41.1" height="24.25" fill="#808080"/><rect x="45.97" y="936.40" width="41.1" height="24.25" fill="#2c56b0"/><rect x="88.84" y="936.40" width="41.1" height="24.25" fill="#2c56b0"/><rect x="131.71" y="936.40" width="41.1" height="24.25" fill="#e3e0aa"/><rect x="174.58" y="936.40" width="41.1" height="24.25" fill="#2c56b0"/><rect x="217.45" y="936.40" width="41.1" height="24.25" fill="#335bb0"/><rect x="260.32" y="936.40" width="41.1" height="24.25" fill="#2c56b0"/><rect x="303.19" y="936.40" width="41.1" height="24.25" fill="#2c56b0"/><rect x="346.06" y="936.40" width="41.1" height="24.25" fill="#748cae"/><rect x="388.93" y="936.40" width="41.1" height="24.25" fill="#2c56b0"/><rect x="431.80" y="936.40" width="41.1" height="24.25" fill="#e7ad80"/><rect x="474.67" y="936.40" width="41.1" height="24.25" fill="#2c56b0"/><rect x="517.54" y="936.40" width="41.1" height="24.25" fill="#afb9ac"/><rect x="560.41" y="936.40" width="41.1" height="24.25" fill="#6782ae"/><rect x="603.28" y="936.40" width="41.1" height="24.25" fill="#afb9ac"/><rect x="646.15" y="936.40" width="41.1" height="24.25" fill="#808080"/>
<rect x="3.10" y="962.35" width="41.1" height="24.25" fill="#808080"/><rect x="45.97" y="962.35" width="41.1" height="24.25" fill="#5374af"/><rect x="88.84" y="962.35" width="41.1" height="24.25" fill="#2c56b0"/><rect x="131.71" y="962.35" width="41.1" height="24.25" fill="#eee0a3"/><rect x="174.58" y="962.35" width="41.1" height="24.25" fill="#2c56b0"/><rect x="217.45" y="962.35" width="41.1" height="24.25" fill="#2c56b0"/><rect x="260.32" y="962.35" width="41.1" height="24.25" fill="#2c56b0"/><rect x="303.19" y="962.35" width="41.1" height="24.25" fill="#2c56b0"/><rect x="346.06" y="962.35" width="41.1" height="24.25" fill="#4065af"/><rect x="388.93" y="962.35" width="41.1" height="24.25" fill="#2c56b0"/><rect x="431.80" y="962.35" width="41.1" height="24.25" fill="#e9e5aa"/><rect x="474.67" y="962.35" width="41.1" height="24.25" fill="#6782ae"/><rect x="517.54" y="962.35" width="41.1" height="24.25" fill="#4065af"/><rect x="560.41" y="962.35" width="41.1" height="24.25" fill="#2c56b0"/><rect x="603.28" y="962.35" width="41.1" height="24.25" fill="#4065af"/><rect x="646.15" y="962.35" width="41.1" height="24.25" fill="#466aaf"/>
<rect x="3.10" y="988.30" width="41.1" height="24.25" fill="#bcc3ac"/><rect x="45.97" y="988.30" width="41.1" height="24.25" fill="#4065af"/><rect x="88.84" y="988.30" width="41.1" height="24.25" fill="#a2afac"/><rect x="131.71" y="988.30" width="41.1" height="24.25" fill="#9baaad"/><rect x="174.58" y="988.30" width="41.1" height="24.25" fill="#2c56b0"/><rect x="217.45" y="988.30" width="41.1" height="24.25" fill="#2c56b0"/><rect x="260.32" y="988.30" width="41.1" height="24.25" fill="#808080"/><rect x="303.19" y="988.30" width="41.1" height="24.25" fill="#2c56b0"/><rect x="346.06" y="988.30" width="41.1" height="24.25" fill="#748cae"/><rect x="388.93" y="988.30" width="41.1" height="24.25" fill="#7a91ae"/><rect x="431.80" y="988.30" width="41.1" height="24.25" fill="#9baaad"/><rect x="474.67" y="988.30" width="41.1" height="24.25" fill="#2c56b0"/><rect x="517.54" y="988.30" width="41.1" height="24.25" fill="#cfd1ab"/><rect x="560.41" y="988.30" width="41.1" height="24.25" fill="#eee0a3"/><rect x="603.28" y="988.30" width="41.1" height="24.25" fill="#c9ccab"/><rect x="646.15" y="988.30" width="41.1" height="24.25" fill="#e59e76"/>
<rect x="3.10" y="1014.25" width="41.1" height="24.25" fill="#335bb0"/><rect x="45.97" y="1014.25" width="41.1" height="24.25" fill="#4065af"/><rect x="88.84" y="1014.25" width="41.1" height="24.25" fill="#2c56b0"/><rect x="131.71" y="1014.25" width="41.1" height="24.25" fill="#2c56b0"/><rect x="174.58" y="1014.25" width="41.1" height="24.25" fill="#5a79af"/><rect x="217.45" y="1014.25" width="41.1" height="24.25" fill="#6d87ae"/><rect x="260.32" y="1014.25" width="41.1" height="24.25" fill="#c9ccab"/><rect x="303.19" y="1014.25" width="41.1" height="24.25" fill="#e3e0aa"/><rect x="346.06" y="1014.25" width="41.1" height="24.25" fill="#cfd1ab"/><rect x="388.93" y="1014.25" width="41.1" height="24.25" fill="#c9ccab"/><rect x="431.80" y="1014.25" width="41.1" height="24.25" fill="#f0eaaa"/><rect x="474.67" y="1014.25" width="41.1" height="24.25" fill="#3960b0"/><rect x="517.54" y="1014.25" width="41.1" height="24.25" fill="#2c56b0"/><rect x="560.41" y="1014.25" width="41.1" height="24.25" fill="#335bb0"/><rect x="603.28" y="1014.25" width="41.1" height="24.25" fill="#2c56b0"/><rect x="646.15" y="1014.25" width="41.1" height="24.25" fill="#2c56b0"/>
<rect x="3.10" y="1040.20" width="41.1" height="24.25" fill="#4065af"/><rect x="45.97" y="1040.20" width="41.1" height="24.25" fill="#2c56b0"/><rect x="88.84" y="1040.20" width="41.1" height="24.25" fill="#b5beac"/><rect x="131.71" y="1040.20" width="41.1" height="24.25" fill="#c9ccab"/><rect x="174.58" y="1040.20" width="41.1" height="24.25" fill="#2c56b0"/><rect x="217.45" y="1040.20" width="41.1" height="24.25" fill="#2c56b0"/><rect x="260.32" y="1040.20" width="41.1" height="24.25" fill="#5a79af"/><rect x="303.19" y="1040.20" width="41.1" height="24.25" fill="#4065af"/><rect x="346.06" y="1040.20" width="41.1" height="24.25" fill="#4065af"/><rect x="388.93" y="1040.20" width="41.1" height="24.25" fill="#6782ae"/><rect x="431.80" y="1040.20" width="41.1" height="24.25" fill="#6782ae"/><rect x="474.67" y="1040.20" width="41.1" height="24.25" fill="#2c56b0"/><rect x="517.54" y="1040.20" width="41.1" height="24.25" fill="#2c56b0"/><rect x="560.41" y="1040.20" width="41.1" height="24.25" fill="#e8b787"/><rect x="603.28" y="1040.20" width="41.1" height="24.25" fill="#dc6550"/><rect x="646.15" y="1040.20" width="41.1" height="24.25" fill="#e7ad80"/>
<rect x="3.10" y="1066.15" width="41.1" height="24.25" fill="#2c56b0"/><rect x="45.97" y="1066.15" width="41.1" height="24.25" fill="#2c56b0"/><rect x="88.84" y="1066.15" width="41.1" height="24.25" fill="#2c56b0"/><rect x="131.71" y="1066.15" width="41.1" height="24.25" fill="#2c56b0"/><rect x="174.58" y="1066.15" width="41.1" height="24.25" fill="#607dae"/><rect x="217.45" y="1066.15" width="41.1" height="24.25" fill="#5a79af"/><rect x="260.32" y="1066.15" width="41.1" height="24.25" fill="#bcc3ac"/><rect x="303.19" y="1066.15" width="41.1" height="24.25" fill="#8196ad"/><rect x="346.06" y="1066.15" width="41.1" height="24.25" fill="#a2afac"/><rect x="388.93" y="1066.15" width="41.1" height="24.25" fill="#bcc3ac"/><rect x="431.80" y="1066.15" width="41.1" height="24.25" fill="#cfd1ab"/><rect x="474.67" y="1066.15" width="41.1" height="24.25" fill="#4065af"/><rect x="517.54" y="1066.15" width="41.1" height="24.25" fill="#3960b0"/><rect x="560.41" y="1066.15" width="41.1" height="24.25" fill="#e9e5aa"/><rect x="603.28" y="1066.15" width="41.1" height="24.25" fill="#e6a379"/><rect x="646.15" y="1066.15" width="41.1" height="24.25" fill="#b5beac"/>
<rect x="3.10" y="1092.10" width="41.1" height="24.25" fill="#2c56b0"/><rect x="45.97" y="1092.10" width="41.1" height="24.25" fill="#2c56b0"/><rect x="88.84" y="1092.10" width="41.1" height="24.25" fill="#dcdbab"/><rect x="131.71" y="1092.10" width="41.1" height="24.25" fill="#e49872"/><rect x="174.58" y="1092.10" width="41.1" height="24.25" fill="#8196ad"/><rect x="217.45" y="1092.10" width="41.1" height="24.25" fill="#2c56b0"/><rect x="260.32" y="1092.10" width="41.1" height="24.25" fill="#ebc692"/><rect x="303.19" y="1092.10" width="41.1" height="24.25" fill="#d6d6ab"/><rect x="346.06" y="1092.10" width="41.1" height="24.25" fill="#b5beac"/><rect x="388.93" y="1092.10" width="41.1" height="24.25" fill="#b5beac"/><rect x="431.80" y="1092.10" width="41.1" height="24.25" fill="#4d6faf"/><rect x="474.67" y="1092.10" width="41.1" height="24.25" fill="#2c56b0"/><rect x="517.54" y="1092.10" width="41.1" height="24.25" fill="#2c56b0"/><rect x="560.41" y="1092.10" width="41.1" height="24.25" fill="#e7ad80"/><rect x="603.28" y="1092.10" width="41.1" height="24.25" fill="#da5142"/><rect x="646.15" y="1092.10" width="41.1" height="24.25" fill="#d5322d"/>
<rect x="3.10" y="1118.05" width="41.1" height="24.25" fill="#4d6faf"/><rect x="45.97" y="1118.05" width="41.1" height="24.25" fill="#2c56b0"/><rect x="88.84" y="1118.05" width="41.1" height="24.25" fill="#8196ad"/><rect x="131.71" y="1118.05" width="41.1" height="24.25" fill="#6782ae"/><rect x="174.58" y="1118.05" width="41.1" height="24.25" fill="#8ea0ad"/><rect x="217.45" y="1118.05" width="41.1" height="24.25" fill="#8ea0ad"/><rect x="260.32" y="1118.05" width="41.1" height="24.25" fill="#e49872"/><rect x="303.19" y="1118.05" width="41.1" height="24.25" fill="#e7ad80"/><rect x="346.06" y="1118.05" width="41.1" height="24.25" fill="#e8b787"/><rect x="388.93" y="1118.05" width="41.1" height="24.25" fill="#e9bc8b"/><rect x="431.80" y="1118.05" width="41.1" height="24.25" fill="#f0eaaa"/><rect x="474.67" y="1118.05" width="41.1" height="24.25" fill="#2c56b0"/><rect x="517.54" y="1118.05" width="41.1" height="24.25" fill="#2c56b0"/><rect x="560.41" y="1118.05" width="41.1" height="24.25" fill="#5374af"/><rect x="603.28" y="1118.05" width="41.1" height="24.25" fill="#c2c7ab"/><rect x="646.15" y="1118.05" width="41.1" height="24.25" fill="#a8b4ac"/>
<rect x="3.10" y="1144.00" width="41.1" height="24.25" fill="#4d6faf"/><rect x="45.97" y="1144.00" width="41.1" height="24.25" fill="#2c56b0"/><rect x="88.84" y="1144.00" width="41.1" height="24.25" fill="#5374af"/><rect x="131.71" y="1144.00" width="41.1" height="24.25" fill="#8196ad"/><rect x="174.58" y="1144.00" width="41.1" height="24.25" fill="#748cae"/><rect x="217.45" y="1144.00" width="41.1" height="24.25" fill="#2c56b0"/><rect x="260.32" y="1144.00" width="41.1" height="24.25" fill="#f0eaaa"/><rect x="303.19" y="1144.00" width="41.1" height="24.25" fill="#b5beac"/><rect x="346.06" y="1144.00" width="41.1" height="24.25" fill="#b5beac"/><rect x="388.93" y="1144.00" width="41.1" height="24.25" fill="#bcc3ac"/><rect x="431.80" y="1144.00" width="41.1" height="24.25" fill="#9baaad"/><rect x="474.67" y="1144.00" width="41.1" height="24.25" fill="#2c56b0"/><rect x="517.54" y="1144.00" width="41.1" height="24.25" fill="#4065af"/><rect x="560.41" y="1144.00" width="41.1" height="24.25" fill="#7a91ae"/><rect x="603.28" y="1144.00" width="41.1" height="24.25" fill="#f0eaaa"/><rect x="646.15" y="1144.00" width="41.1" height="24.25" fill="#e3e0aa"/>
<rect x="3.10" y="1169.95" width="41.1" height="24.25" fill="#466aaf"/><rect x="45.97" y="1169.95" width="41.1" height="24.25" fill="#2c56b0"/><rect x="88.84" y="1169.95" width="41.1" height="24.25" fill="#2c56b0"/><rect x="131.71" y="1169.95" width="41.1" height="24.25" fill="#5a79af"/><rect x="174.58" y="1169.95" width="41.1" height="24.25" fill="#7a91ae"/><rect x="217.45" y="1169.95" width="41.1" height="24.25" fill="#8196ad"/><rect x="260.32" y="1169.95" width="41.1" height="24.25" fill="#bcc3ac"/><rect x="303.19" y="1169.95" width="41.1" height="24.25" fill="#9baaad"/><rect x="346.06" y="1169.95" width="41.1" height="24.25" fill="#8ea0ad"/><rect x="388.93" y="1169.95" width="41.1" height="24.25" fill="#879bad"/><rect x="431.80" y="1169.95" width="41.1" height="24.25" fill="#b5beac"/><rect x="474.67" y="1169.95" width="41.1" height="24.25" fill="#2c56b0"/><rect x="517.54" y="1169.95" width="41.1" height="24.25" fill="#2c56b0"/><rect x="560.41" y="1169.95" width="41.1" height="24.25" fill="#2c56b0"/><rect x="603.28" y="1169.95" width="41.1" height="24.25" fill="#3960b0"/><rect x="646.15" y="1169.95" width="41.1" height="24.25" fill="#a8b4ac"/>
<rect x="3.10" y="1195.90" width="41.1" height="24.25" fill="#2c56b0"/><rect x="45.97" y="1195.90" width="41.1" height="24.25" fill="#2c56b0"/><rect x="88.84" y="1195.90" width="41.1" height="24.25" fill="#4065af"/><rect x="131.71" y="1195.90" width="41.1" height="24.25" fill="#2c56b0"/><rect x="174.58" y="1195.90" width="41.1" height="24.25" fill="#4d6faf"/><rect x="217.45" y="1195.90" width="41.1" height="24.25" fill="#4d6faf"/><rect x="260.32" y="1195.90" width="41.1" height="24.25" fill="#5374af"/><rect x="303.19" y="1195.90" width="41.1" height="24.25" fill="#3960b0"/><rect x="346.06" y="1195.90" width="41.1" height="24.25" fill="#2c56b0"/><rect x="388.93" y="1195.90" width="41.1" height="24.25" fill="#3960b0"/><rect x="431.80" y="1195.90" width="41.1" height="24.25" fill="#466aaf"/><rect x="474.67" y="1195.90" width="41.1" height="24.25" fill="#2c56b0"/><rect x="517.54" y="1195.90" width="41.1" height="24.25" fill="#6782ae"/><rect x="560.41" y="1195.90" width="41.1" height="24.25" fill="#6d87ae"/><rect x="603.28" y="1195.90" width="41.1" height="24.25" fill="#c9ccab"/><rect x="646.15" y="1195.90" width="41.1" height="24.25" fill="#afb9ac"/>
<rect x="3.10" y="1221.85" width="41.1" height="24.25" fill="#5374af"/><rect x="45.97" y="1221.85" width="41.1" height="24.25" fill="#335bb0"/><rect x="88.84" y="1221.85" width="41.1" height="24.25" fill="#2c56b0"/><rect x="131.71" y="1221.85" width="41.1" height="24.25" fill="#2c56b0"/><rect x="174.58" y="1221.85" width="41.1" height="24.25" fill="#335bb0"/><rect x="217.45" y="1221.85" width="41.1" height="24.25" fill="#4d6faf"/><rect x="260.32" y="1221.85" width="41.1" height="24.25" fill="#5a79af"/><rect x="303.19" y="1221.85" width="41.1" height="24.25" fill="#5a79af"/><rect x="346.06" y="1221.85" width="41.1" height="24.25" fill="#466aaf"/><rect x="388.93" y="1221.85" width="41.1" height="24.25" fill="#5a79af"/><rect x="431.80" y="1221.85" width="41.1" height="24.25" fill="#5374af"/><rect x="474.67" y="1221.85" width="41.1" height="24.25" fill="#2c56b0"/><rect x="517.54" y="1221.85" width="41.1" height="24.25" fill="#335bb0"/><rect x="560.41" y="1221.85" width="41.1" height="24.25" fill="#2c56b0"/><rect x="603.28" y="1221.85" width="41.1" height="24.25" fill="#3960b0"/><rect x="646.15" y="1221.85" width="41.1" height="24.25" fill="#5374af"/>
<rect x="3.10" y="1247.80" width="41.1" height="24.25" fill="#5374af"/><rect x="45.97" y="1247.80" width="41.1" height="24.25" fill="#2c56b0"/><rect x="88.84" y="1247.80" width="41.1" height="24.25" fill="#335bb0"/><rect x="131.71" y="1247.80" width="41.1" height="24.25" fill="#2c56b0"/><rect x="174.58" y="1247.80" width="41.1" height="24.25" fill="#335bb0"/><rect x="217.45" y="1247.80" width="41.1" height="24.25" fill="#335bb0"/><rect x="260.32" y="1247.80" width="41.1" height="24.25" fill="#2c56b0"/><rect x="303.19" y="1247.80" width="41.1" height="24.25" fill="#2c56b0"/><rect x="346.06" y="1247.80" width="41.1" height="24.25" fill="#2c56b0"/><rect x="388.93" y="1247.80" width="41.1" height="24.25" fill="#2c56b0"/><rect x="431.80" y="1247.80" width="41.1" height="24.25" fill="#2c56b0"/><rect x="474.67" y="1247.80" width="41.1" height="24.25" fill="#335bb0"/><rect x="517.54" y="1247.80" width="41.1" height="24.25" fill="#3960b0"/><rect x="560.41" y="1247.80" width="41.1" height="24.25" fill="#5374af"/><rect x="603.28" y="1247.80" width="41.1" height="24.25" fill="#e9e5aa"/><rect x="646.15" y="1247.80" width="41.1" height="24.25" fill="#466aaf"/>
<rect x="3.10" y="1273.75" width="41.1" height="24.25" fill="#5374af"/><rect x="45.97" y="1273.75" width="41.1" height="24.25" fill="#2c56b0"/><rect x="88.84" y="1273.75" width="41.1" height="24.25" fill="#cfd1ab"/><rect x="131.71" y="1273.75" width="41.1" height="24.25" fill="#cfd1ab"/><rect x="174.58" y="1273.75" width="41.1" height="24.25" fill="#a2afac"/><rect x="217.45" y="1273.75" width="41.1" height="24.25" fill="#5a79af"/><rect x="260.32" y="1273.75" width="41.1" height="24.25" fill="#ebc692"/><rect x="303.19" y="1273.75" width="41.1" height="24.25" fill="#eedba0"/><rect x="346.06" y="1273.75" width="41.1" height="24.25" fill="#efe5a7"/><rect x="388.93" y="1273.75" width="41.1" height="24.25" fill="#eedba0"/><rect x="431.80" y="1273.75" width="41.1" height="24.25" fill="#bcc3ac"/><rect x="474.67" y="1273.75" width="41.1" height="24.25" fill="#3960b0"/><rect x="517.54" y="1273.75" width="41.1" height="24.25" fill="#2c56b0"/><rect x="560.41" y="1273.75" width="41.1" height="24.25" fill="#466aaf"/><rect x="603.28" y="1273.75" width="41.1" height="24.25" fill="#8196ad"/><rect x="646.15" y="1273.75" width="41.1" height="24.25" fill="#3960b0"/>
<rect x="3.10" y="1299.70" width="41.1" height="24.25" fill="#335bb0"/><rect x="45.97" y="1299.70" width="41.1" height="24.25" fill="#2c56b0"/><rect x="88.84" y="1299.70" width="41.1" height="24.25" fill="#4065af"/><rect x="131.71" y="1299.70" width="41.1" height="24.25" fill="#95a5ad"/><rect x="174.58" y="1299.70" width="41.1" height="24.25" fill="#2c56b0"/><rect x="217.45" y="1299.70" width="41.1" height="24.25" fill="#466aaf"/><rect x="260.32" y="1299.70" width="41.1" height="24.25" fill="#d6d6ab"/><rect x="303.19" y="1299.70" width="41.1" height="24.25" fill="#afb9ac"/><rect x="346.06" y="1299.70" width="41.1" height="24.25" fill="#b5beac"/><rect x="388.93" y="1299.70" width="41.1" height="24.25" fill="#c2c7ab"/><rect x="431.80" y="1299.70" width="41.1" height="24.25" fill="#7a91ae"/><rect x="474.67" y="1299.70" width="41.1" height="24.25" fill="#3960b0"/><rect x="517.54" y="1299.70" width="41.1" height="24.25" fill="#5a79af"/><rect x="560.41" y="1299.70" width="41.1" height="24.25" fill="#f0eaaa"/><rect x="603.28" y="1299.70" width="41.1" height="24.25" fill="#e07a5e"/><rect x="646.15" y="1299.70" width="41.1" height="24.25" fill="#e3e0aa"/>
<rect x="3.10" y="1325.65" width="41.1" height="24.25" fill="#2c56b0"/><rect x="45.97" y="1325.65" width="41.1" height="24.25" fill="#335bb0"/><rect x="88.84" y="1325.65" width="41.1" height="24.25" fill="#3960b0"/><rect x="131.71" y="1325.65" width="41.1" height="24.25" fill="#4d6faf"/><rect x="174.58" y="1325.65" width="41.1" height="24.25" fill="#4d6faf"/><rect x="217.45" y="1325.65" width="41.1" height="24.25" fill="#5374af"/><rect x="260.32" y="1325.65" width="41.1" height="24.25" fill="#3960b0"/><rect x="303.19" y="1325.65" width="41.1" height="24.25" fill="#335bb0"/><rect x="346.06" y="1325.65" width="41.1" height="24.25" fill="#2c56b0"/><rect x="388.93" y="1325.65" width="41.1" height="24.25" fill="#2c56b0"/><rect x="431.80" y="1325.65" width="41.1" height="24.25" fill="#335bb0"/><rect x="474.67" y="1325.65" width="41.1" height="24.25" fill="#2c56b0"/><rect x="517.54" y="1325.65" width="41.1" height="24.25" fill="#607dae"/><rect x="560.41" y="1325.65" width="41.1" height="24.25" fill="#5a79af"/><rect x="603.28" y="1325.65" width="41.1" height="24.25" fill="#5374af"/><rect x="646.15" y="1325.65" width="41.1" height="24.25" fill="#335bb0"/>
<rect x="3.10" y="1351.60" width="41.1" height="24.25" fill="#2c56b0"/><rect x="45.97" y="1351.60" width="41.1" height="24.25" fill="#3960b0"/><rect x="88.84" y="1351.60" width="41.1" height="24.25" fill="#4d6faf"/><rect x="131.71" y="1351.60" width="41.1" height="24.25" fill="#2c56b0"/><rect x="174.58" y="1351.60" width="41.1" height="24.25" fill="#335bb0"/><rect x="217.45" y="1351.60" width="41.1" height="24.25" fill="#3960b0"/><rect x="260.32" y="1351.60" width="41.1" height="24.25" fill="#2c56b0"/><rect x="303.19" y="1351.60" width="41.1" height="24.25" fill="#2c56b0"/><rect x="346.06" y="1351.60" width="41.1" height="24.25" fill="#2c56b0"/><rect x="388.93" y="1351.60" width="41.1" height="24.25" fill="#2c56b0"/><rect x="431.80" y="1351.60" width="41.1" height="24.25" fill="#2c56b0"/><rect x="474.67" y="1351.60" width="41.1" height="24.25" fill="#4065af"/><rect x="517.54" y="1351.60" width="41.1" height="24.25" fill="#2c56b0"/><rect x="560.41" y="1351.60" width="41.1" height="24.25" fill="#2c56b0"/><rect x="603.28" y="1351.60" width="41.1" height="24.25" fill="#8196ad"/><rect x="646.15" y="1351.60" width="41.1" height="24.25" fill="#6782ae"/>
<rect x="3.10" y="1377.55" width="41.1" height="24.25" fill="#466aaf"/><rect x="45.97" y="1377.55" width="41.1" height="24.25" fill="#2c56b0"/><rect x="88.84" y="1377.55" width="41.1" height="24.25" fill="#2c56b0"/><rect x="131.71" y="1377.55" width="41.1" height="24.25" fill="#7a91ae"/><rect x="174.58" y="1377.55" width="41.1" height="24.25" fill="#4d6faf"/><rect x="217.45" y="1377.55" width="41.1" height="24.25" fill="#466aaf"/><rect x="260.32" y="1377.55" width="41.1" height="24.25" fill="#4d6faf"/><rect x="303.19" y="1377.55" width="41.1" height="24.25" fill="#3960b0"/><rect x="346.06" y="1377.55" width="41.1" height="24.25" fill="#2c56b0"/><rect x="388.93" y="1377.55" width="41.1" height="24.25" fill="#2c56b0"/><rect x="431.80" y="1377.55" width="41.1" height="24.25" fill="#335bb0"/><rect x="474.67" y="1377.55" width="41.1" height="24.25" fill="#5374af"/><rect x="517.54" y="1377.55" width="41.1" height="24.25" fill="#4d6faf"/><rect x="560.41" y="1377.55" width="41.1" height="24.25" fill="#466aaf"/><rect x="603.28" y="1377.55" width="41.1" height="24.25" fill="#2c56b0"/><rect x="646.15" y="1377.55" width="41.1" height="24.25" fill="#6782ae"/>
<rect x="3.10" y="1403.50" width="41.1" height="24.25" fill="#2c56b0"/><rect x="45.97" y="1403.50" width="41.1" height="24.25" fill="#2c56b0"/><rect x="88.84" y="1403.50" width="41.1" height="24.25" fill="#5374af"/><rect x="131.71" y="1403.50" width="41.1" height="24.25" fill="#466aaf"/><rect x="174.58" y="1403.50" width="41.1" height="24.25" fill="#3960b0"/><rect x="217.45" y="1403.50" width="41.1" height="24.25" fill="#2c56b0"/><rect x="260.32" y="1403.50" width="41.1" height="24.25" fill="#4065af"/><rect x="303.19" y="1403.50" width="41.1" height="24.25" fill="#2c56b0"/><rect x="346.06" y="1403.50" width="41.1" height="24.25" fill="#2c56b0"/><rect x="388.93" y="1403.50" width="41.1" height="24.25" fill="#3960b0"/><rect x="431.80" y="1403.50" width="41.1" height="24.25" fill="#2c56b0"/><rect x="474.67" y="1403.50" width="41.1" height="24.25" fill="#335bb0"/><rect x="517.54" y="1403.50" width="41.1" height="24.25" fill="#5374af"/><rect x="560.41" y="1403.50" width="41.1" height="24.25" fill="#4d6faf"/><rect x="603.28" y="1403.50" width="41.1" height="24.25" fill="#6782ae"/><rect x="646.15" y="1403.50" width="41.1" height="24.25" fill="#6d87ae"/>
<rect x="3.10" y="1429.45" width="41.1" height="24.25" fill="#5374af"/><rect x="45.97" y="1429.45" width="41.1" height="24.25" fill="#2c56b0"/><rect x="88.84" y="1429.45" width="41.1" height="24.25" fill="#2c56b0"/><rect x="131.71" y="1429.45" width="41.1" height="24.25" fill="#3960b0"/><rect x="174.58" y="1429.45" width="41.1" height="24.25" fill="#335bb0"/><rect x="217.45" y="1429.45" width="41.1" height="24.25" fill="#3960b0"/><rect x="260.32" y="1429.45" width="41.1" height="24.25" fill="#2c56b0"/><rect x="303.19" y="1429.45" width="41.1" height="24.25" fill="#2c56b0"/><rect x="346.06" y="1429.45" width="41.1" height="24.25" fill="#2c56b0"/><rect x="388.93" y="1429.45" width="41.1" height="24.25" fill="#2c56b0"/><rect x="431.80" y="1429.45" width="41.1" height="24.25" fill="#2c56b0"/><rect x="474.67" y="1429.45" width="41.1" height="24.25" fill="#466aaf"/><rect x="517.54" y="1429.45" width="41.1" height="24.25" fill="#879bad"/><rect x="560.41" y="1429.45" width="41.1" height="24.25" fill="#748cae"/><rect x="603.28" y="1429.45" width="41.1" height="24.25" fill="#95a5ad"/><rect x="646.15" y="1429.45" width="41.1" height="24.25" fill="#748cae"/>
<rect x="3.10" y="1455.40" width="41.1" height="24.25" fill="#5a79af"/><rect x="45.97" y="1455.40" width="41.1" height="24.25" fill="#4065af"/><rect x="88.84" y="1455.40" width="41.1" height="24.25" fill="#2c56b0"/><rect x="131.71" y="1455.40" width="41.1" height="24.25" fill="#2c56b0"/><rect x="174.58" y="1455.40" width="41.1" height="24.25" fill="#3960b0"/><rect x="217.45" y="1455.40" width="41.1" height="24.25" fill="#466aaf"/><rect x="260.32" y="1455.40" width="41.1" height="24.25" fill="#4065af"/><rect x="303.19" y="1455.40" width="41.1" height="24.25" fill="#5374af"/><rect x="346.06" y="1455.40" width="41.1" height="24.25" fill="#466aaf"/><rect x="388.93" y="1455.40" width="41.1" height="24.25" fill="#6782ae"/><rect x="431.80" y="1455.40" width="41.1" height="24.25" fill="#8196ad"/><rect x="474.67" y="1455.40" width="41.1" height="24.25" fill="#2c56b0"/><rect x="517.54" y="1455.40" width="41.1" height="24.25" fill="#4065af"/><rect x="560.41" y="1455.40" width="41.1" height="24.25" fill="#8196ad"/><rect x="603.28" y="1455.40" width="41.1" height="24.25" fill="#afb9ac"/><rect x="646.15" y="1455.40" width="41.1" height="24.25" fill="#2c56b0"/>
<rect x="3.10" y="1481.35" width="41.1" height="24.25" fill="#4065af"/><rect x="45.97" y="1481.35" width="41.1" height="24.25" fill="#2c56b0"/><rect x="88.84" y="1481.35" width="41.1" height="24.25" fill="#5374af"/><rect x="131.71" y="1481.35" width="41.1" height="24.25" fill="#2c56b0"/><rect x="174.58" y="1481.35" width="41.1" height="24.25" fill="#808080"/><rect x="217.45" y="1481.35" width="41.1" height="24.25" fill="#2c56b0"/><rect x="260.32" y="1481.35" width="41.1" height="24.25" fill="#e3e0aa"/><rect x="303.19" y="1481.35" width="41.1" height="24.25" fill="#c2c7ab"/><rect x="346.06" y="1481.35" width="41.1" height="24.25" fill="#efe5a7"/><rect x="388.93" y="1481.35" width="41.1" height="24.25" fill="#efe5a7"/><rect x="431.80" y="1481.35" width="41.1" height="24.25" fill="#cfd1ab"/><rect x="474.67" y="1481.35" width="41.1" height="24.25" fill="#2c56b0"/><rect x="517.54" y="1481.35" width="41.1" height="24.25" fill="#3960b0"/><rect x="560.41" y="1481.35" width="41.1" height="24.25" fill="#607dae"/><rect x="603.28" y="1481.35" width="41.1" height="24.25" fill="#5374af"/><rect x="646.15" y="1481.35" width="41.1" height="24.25" fill="#2c56b0"/>
<rect x="3.10" y="1507.30" width="41.1" height="24.25" fill="#3960b0"/><rect x="45.97" y="1507.30" width="41.1" height="24.25" fill="#4065af"/><rect x="88.84" y="1507.30" width="41.1" height="24.25" fill="#5374af"/><rect x="131.71" y="1507.30" width="41.1" height="24.25" fill="#3960b0"/><rect x="174.58" y="1507.30" width="41.1" height="24.25" fill="#808080"/><rect x="217.45" y="1507.30" width="41.1" height="24.25" fill="#2c56b0"/><rect x="260.32" y="1507.30" width="41.1" height="24.25" fill="#f0eaaa"/><rect x="303.19" y="1507.30" width="41.1" height="24.25" fill="#c2c7ab"/><rect x="346.06" y="1507.30" width="41.1" height="24.25" fill="#edd69c"/><rect x="388.93" y="1507.30" width="41.1" height="24.25" fill="#ecd099"/><rect x="431.80" y="1507.30" width="41.1" height="24.25" fill="#e3e0aa"/><rect x="474.67" y="1507.30" width="41.1" height="24.25" fill="#2c56b0"/><rect x="517.54" y="1507.30" width="41.1" height="24.25" fill="#3960b0"/><rect x="560.41" y="1507.30" width="41.1" height="24.25" fill="#2c56b0"/><rect x="603.28" y="1507.30" width="41.1" height="24.25" fill="#748cae"/><rect x="646.15" y="1507.30" width="41.1" height="24.25" fill="#466aaf"/>
<rect x="3.10" y="1533.25" width="41.1" height="24.25" fill="#3960b0"/><rect x="45.97" y="1533.25" width="41.1" height="24.25" fill="#2c56b0"/><rect x="88.84" y="1533.25" width="41.1" height="24.25" fill="#748cae"/><rect x="131.71" y="1533.25" width="41.1" height="24.25" fill="#2c56b0"/><rect x="174.58" y="1533.25" width="41.1" height="24.25" fill="#3960b0"/><rect x="217.45" y="1533.25" width="41.1" height="24.25" fill="#335bb0"/><rect x="260.32" y="1533.25" width="41.1" height="24.25" fill="#3960b0"/><rect x="303.19" y="1533.25" width="41.1" height="24.25" fill="#2c56b0"/><rect x="346.06" y="1533.25" width="41.1" height="24.25" fill="#335bb0"/><rect x="388.93" y="1533.25" width="41.1" height="24.25" fill="#2c56b0"/><rect x="431.80" y="1533.25" width="41.1" height="24.25" fill="#2c56b0"/><rect x="474.67" y="1533.25" width="41.1" height="24.25" fill="#2c56b0"/><rect x="517.54" y="1533.25" width="41.1" height="24.25" fill="#4d6faf"/><rect x="560.41" y="1533.25" width="41.1" height="24.25" fill="#efe5a7"/><rect x="603.28" y="1533.25" width="41.1" height="24.25" fill="#e59e76"/><rect x="646.15" y="1533.25" width="41.1" height="24.25" fill="#b5beac"/>
<rect x="3.10" y="1559.20" width="41.1" height="24.25" fill="#3960b0"/><rect x="45.97" y="1559.20" width="41.1" height="24.25" fill="#2c56b0"/><rect x="88.84" y="1559.20" width="41.1" height="24.25" fill="#2c56b0"/><rect x="131.71" y="1559.20" width="41.1" height="24.25" fill="#335bb0"/><rect x="174.58" y="1559.20" width="41.1" height="24.25" fill="#2c56b0"/><rect x="217.45" y="1559.20" width="41.1" height="24.25" fill="#2c56b0"/><rect x="260.32" y="1559.20" width="41.1" height="24.25" fill="#2c56b0"/><rect x="303.19" y="1559.20" width="41.1" height="24.25" fill="#2c56b0"/><rect x="346.06" y="1559.20" width="41.1" height="24.25" fill="#2c56b0"/><rect x="388.93" y="1559.20" width="41.1" height="24.25" fill="#2c56b0"/><rect x="431.80" y="1559.20" width="41.1" height="24.25" fill="#466aaf"/><rect x="474.67" y="1559.20" width="41.1" height="24.25" fill="#2c56b0"/><rect x="517.54" y="1559.20" width="41.1" height="24.25" fill="#335bb0"/><rect x="560.41" y="1559.20" width="41.1" height="24.25" fill="#2c56b0"/><rect x="603.28" y="1559.20" width="41.1" height="24.25" fill="#2c56b0"/><rect x="646.15" y="1559.20" width="41.1" height="24.25" fill="#607dae"/>
<rect x="3.10" y="1585.15" width="41.1" height="24.25" fill="#4065af"/><rect x="45.97" y="1585.15" width="41.1" height="24.25" fill="#5374af"/><rect x="88.84" y="1585.15" width="41.1" height="24.25" fill="#4065af"/><rect x="131.71" y="1585.15" width="41.1" height="24.25" fill="#2c56b0"/><rect x="174.58" y="1585.15" width="41.1" height="24.25" fill="#2c56b0"/><rect x="217.45" y="1585.15" width="41.1" height="24.25" fill="#2c56b0"/><rect x="260.32" y="1585.15" width="41.1" height="24.25" fill="#2c56b0"/><rect x="303.19" y="1585.15" width="41.1" height="24.25" fill="#2c56b0"/><rect x="346.06" y="1585.15" width="41.1" height="24.25" fill="#2c56b0"/><rect x="388.93" y="1585.15" width="41.1" height="24.25" fill="#2c56b0"/><rect x="431.80" y="1585.15" width="41.1" height="24.25" fill="#2c56b0"/><rect x="474.67" y="1585.15" width="41.1" height="24.25" fill="#4d6faf"/><rect x="517.54" y="1585.15" width="41.1" height="24.25" fill="#4065af"/><rect x="560.41" y="1585.15" width="41.1" height="24.25" fill="#3960b0"/><rect x="603.28" y="1585.15" width="41.1" height="24.25" fill="#5374af"/><rect x="646.15" y="1585.15" width="41.1" height="24.25" fill="#4d6faf"/>
<rect x="3.10" y="1611.10" width="41.1" height="24.25" fill="#2c56b0"/><rect x="45.97" y="1611.10" width="41.1" height="24.25" fill="#4065af"/><rect x="88.84" y="1611.10" width="41.1" height="24.25" fill="#7a91ae"/><rect x="131.71" y="1611.10" width="41.1" height="24.25" fill="#8196ad"/><rect x="174.58" y="1611.10" width="41.1" height="24.25" fill="#4065af"/><rect x="217.45" y="1611.10" width="41.1" height="24.25" fill="#4065af"/><rect x="260.32" y="1611.10" width="41.1" height="24.25" fill="#6782ae"/><rect x="303.19" y="1611.10" width="41.1" height="24.25" fill="#607dae"/><rect x="346.06" y="1611.10" width="41.1" height="24.25" fill="#8ea0ad"/><rect x="388.93" y="1611.10" width="41.1" height="24.25" fill="#7a91ae"/><rect x="431.80" y="1611.10" width="41.1" height="24.25" fill="#5a79af"/><rect x="474.67" y="1611.10" width="41.1" height="24.25" fill="#2c56b0"/><rect x="517.54" y="1611.10" width="41.1" height="24.25" fill="#2c56b0"/><rect x="560.41" y="1611.10" width="41.1" height="24.25" fill="#466aaf"/><rect x="603.28" y="1611.10" width="41.1" height="24.25" fill="#4065af"/><rect x="646.15" y="1611.10" width="41.1" height="24.25" fill="#4065af"/>
<rect x="3.10" y="1637.05" width="41.1" height="24.25" fill="#6782ae"/><rect x="45.97" y="1637.05" width="41.1" height="24.25" fill="#2c56b0"/><rect x="88.84" y="1637.05" width="41.1" height="24.25" fill="#b5beac"/><rect x="131.71" y="1637.05" width="41.1" height="24.25" fill="#a2afac"/><rect x="174.58" y="1637.05" width="41.1" height="24.25" fill="#607dae"/><rect x="217.45" y="1637.05" width="41.1" height="24.25" fill="#466aaf"/><rect x="260.32" y="1637.05" width="41.1" height="24.25" fill="#95a5ad"/><rect x="303.19" y="1637.05" width="41.1" height="24.25" fill="#748cae"/><rect x="346.06" y="1637.05" width="41.1" height="24.25" fill="#879bad"/><rect x="388.93" y="1637.05" width="41.1" height="24.25" fill="#b5beac"/><rect x="431.80" y="1637.05" width="41.1" height="24.25" fill="#b5beac"/><rect x="474.67" y="1637.05" width="41.1" height="24.25" fill="#4d6faf"/><rect x="517.54" y="1637.05" width="41.1" height="24.25" fill="#5a79af"/><rect x="560.41" y="1637.05" width="41.1" height="24.25" fill="#f0eaaa"/><rect x="603.28" y="1637.05" width="41.1" height="24.25" fill="#e18464"/><rect x="646.15" y="1637.05" width="41.1" height="24.25" fill="#9baaad"/>
<rect x="3.10" y="1663.00" width="41.1" height="24.25" fill="#2c56b0"/><rect x="45.97" y="1663.00" width="41.1" height="24.25" fill="#335bb0"/><rect x="88.84" y="1663.00" width="41.1" height="24.25" fill="#2c56b0"/><rect x="131.71" y="1663.00" width="41.1" height="24.25" fill="#2c56b0"/><rect x="174.58" y="1663.00" width="41.1" height="24.25" fill="#335bb0"/><rect x="217.45" y="1663.00" width="41.1" height="24.25" fill="#2c56b0"/><rect x="260.32" y="1663.00" width="41.1" height="24.25" fill="#2c56b0"/><rect x="303.19" y="1663.00" width="41.1" height="24.25" fill="#2c56b0"/><rect x="346.06" y="1663.00" width="41.1" height="24.25" fill="#2c56b0"/><rect x="388.93" y="1663.00" width="41.1" height="24.25" fill="#2c56b0"/><rect x="431.80" y="1663.00" width="41.1" height="24.25" fill="#2c56b0"/><rect x="474.67" y="1663.00" width="41.1" height="24.25" fill="#2c56b0"/><rect x="517.54" y="1663.00" width="41.1" height="24.25" fill="#3960b0"/><rect x="560.41" y="1663.00" width="41.1" height="24.25" fill="#4065af"/><rect x="603.28" y="1663.00" width="41.1" height="24.25" fill="#8196ad"/><rect x="646.15" y="1663.00" width="41.1" height="24.25" fill="#6d87ae"/>
<rect x="3.10" y="1688.95" width="41.1" height="24.25" fill="#2c56b0"/><rect x="45.97" y="1688.95" width="41.1" height="24.25" fill="#2c56b0"/><rect x="88.84" y="1688.95" width="41.1" height="24.25" fill="#3960b0"/><rect x="131.71" y="1688.95" width="41.1" height="24.25" fill="#4065af"/><rect x="174.58" y="1688.95" width="41.1" height="24.25" fill="#2c56b0"/><rect x="217.45" y="1688.95" width="41.1" height="24.25" fill="#2c56b0"/><rect x="260.32" y="1688.95" width="41.1" height="24.25" fill="#3960b0"/><rect x="303.19" y="1688.95" width="41.1" height="24.25" fill="#335bb0"/><rect x="346.06" y="1688.95" width="41.1" height="24.25" fill="#4065af"/><rect x="388.93" y="1688.95" width="41.1" height="24.25" fill="#3960b0"/><rect x="431.80" y="1688.95" width="41.1" height="24.25" fill="#2c56b0"/><rect x="474.67" y="1688.95" width="41.1" height="24.25" fill="#2c56b0"/><rect x="517.54" y="1688.95" width="41.1" height="24.25" fill="#2c56b0"/><rect x="560.41" y="1688.95" width="41.1" height="24.25" fill="#2c56b0"/><rect x="603.28" y="1688.95" width="41.1" height="24.25" fill="#4d6faf"/><rect x="646.15" y="1688.95" width="41.1" height="24.25" fill="#b5beac"/>
<rect x="3.10" y="1714.90" width="41.1" height="24.25" fill="#2c56b0"/><rect x="45.97" y="1714.90" width="41.1" height="24.25" fill="#2c56b0"/><rect x="88.84" y="1714.90" width="41.1" height="24.25" fill="#4d6faf"/><rect x="131.71" y="1714.90" width="41.1" height="24.25" fill="#2c56b0"/><rect x="174.58" y="1714.90" width="41.1" height="24.25" fill="#6782ae"/><rect x="217.45" y="1714.90" width="41.1" height="24.25" fill="#8ea0ad"/><rect x="260.32" y="1714.90" width="41.1" height="24.25" fill="#8196ad"/><rect x="303.19" y="1714.90" width="41.1" height="24.25" fill="#748cae"/><rect x="346.06" y="1714.90" width="41.1" height="24.25" fill="#8196ad"/><rect x="388.93" y="1714.90" width="41.1" height="24.25" fill="#9baaad"/><rect x="431.80" y="1714.90" width="41.1" height="24.25" fill="#c9ccab"/><rect x="474.67" y="1714.90" width="41.1" height="24.25" fill="#335bb0"/><rect x="517.54" y="1714.90" width="41.1" height="24.25" fill="#466aaf"/><rect x="560.41" y="1714.90" width="41.1" height="24.25" fill="#3960b0"/><rect x="603.28" y="1714.90" width="41.1" height="24.25" fill="#7a91ae"/><rect x="646.15" y="1714.90" width="41.1" height="24.25" fill="#5374af"/>
<rect x="3.10" y="1740.85" width="41.1" height="24.25" fill="#335bb0"/><rect x="45.97" y="1740.85" width="41.1" height="24.25" fill="#335bb0"/><rect x="88.84" y="1740.85" width="41.1" height="24.25" fill="#2c56b0"/><rect x="131.71" y="1740.85" width="41.1" height="24.25" fill="#2c56b0"/><rect x="174.58" y="1740.85" width="41.1" height="24.25" fill="#2c56b0"/><rect x="217.45" y="1740.85" width="41.1" height="24.25" fill="#7a91ae"/><rect x="260.32" y="1740.85" width="41.1" height="24.25" fill="#c9ccab"/><rect x="303.19" y="1740.85" width="41.1" height="24.25" fill="#afb9ac"/><rect x="346.06" y="1740.85" width="41.1" height="24.25" fill="#c2c7ab"/><rect x="388.93" y="1740.85" width="41.1" height="24.25" fill="#cfd1ab"/><rect x="431.80" y="1740.85" width="41.1" height="24.25" fill="#d6d6ab"/><rect x="474.67" y="1740.85" width="41.1" height="24.25" fill="#335bb0"/><rect x="517.54" y="1740.85" width="41.1" height="24.25" fill="#2c56b0"/><rect x="560.41" y="1740.85" width="41.1" height="24.25" fill="#2c56b0"/><rect x="603.28" y="1740.85" width="41.1" height="24.25" fill="#4065af"/><rect x="646.15" y="1740.85" width="41.1" height="24.25" fill="#6782ae"/>
<rect x="3.10" y="1766.80" width="41.1" height="24.25" fill="#95a5ad"/><rect x="45.97" y="1766.80" width="41.1" height="24.25" fill="#2c56b0"/><rect x="88.84" y="1766.80" width="41.1" height="24.25" fill="#a8b4ac"/><rect x="131.71" y="1766.80" width="41.1" height="24.25" fill="#eccb95"/><rect x="174.58" y="1766.80" width="41.1" height="24.25" fill="#8196ad"/><rect x="217.45" y="1766.80" width="41.1" height="24.25" fill="#5374af"/><rect x="260.32" y="1766.80" width="41.1" height="24.25" fill="#f0eaaa"/><rect x="303.19" y="1766.80" width="41.1" height="24.25" fill="#bcc3ac"/><rect x="346.06" y="1766.80" width="41.1" height="24.25" fill="#c9ccab"/><rect x="388.93" y="1766.80" width="41.1" height="24.25" fill="#c9ccab"/><rect x="431.80" y="1766.80" width="41.1" height="24.25" fill="#879bad"/><rect x="474.67" y="1766.80" width="41.1" height="24.25" fill="#2c56b0"/><rect x="517.54" y="1766.80" width="41.1" height="24.25" fill="#335bb0"/><rect x="560.41" y="1766.80" width="41.1" height="24.25" fill="#e07f61"/><rect x="603.28" y="1766.80" width="41.1" height="24.25" fill="#db5b49"/><rect x="646.15" y="1766.80" width="41.1" height="24.25" fill="#e28e6b"/>
<rect x="3.10" y="1792.75" width="41.1" height="24.25" fill="#466aaf"/><rect x="45.97" y="1792.75" width="41.1" height="24.25" fill="#2c56b0"/><rect x="88.84" y="1792.75" width="41.1" height="24.25" fill="#dcdbab"/><rect x="131.71" y="1792.75" width="41.1" height="24.25" fill="#2c56b0"/><rect x="174.58" y="1792.75" width="41.1" height="24.25" fill="#4d6faf"/><rect x="217.45" y="1792.75" width="41.1" height="24.25" fill="#3960b0"/><rect x="260.32" y="1792.75" width="41.1" height="24.25" fill="#7a91ae"/><rect x="303.19" y="1792.75" width="41.1" height="24.25" fill="#5374af"/><rect x="346.06" y="1792.75" width="41.1" height="24.25" fill="#2c56b0"/><rect x="388.93" y="1792.75" width="41.1" height="24.25" fill="#5374af"/><rect x="431.80" y="1792.75" width="41.1" height="24.25" fill="#335bb0"/><rect x="474.67" y="1792.75" width="41.1" height="24.25" fill="#335bb0"/><rect x="517.54" y="1792.75" width="41.1" height="24.25" fill="#2c56b0"/><rect x="560.41" y="1792.75" width="41.1" height="24.25" fill="#2c56b0"/><rect x="603.28" y="1792.75" width="41.1" height="24.25" fill="#2c56b0"/><rect x="646.15" y="1792.75" width="41.1" height="24.25" fill="#466aaf"/>
<rect x="3.10" y="1818.70" width="41.1" height="24.25" fill="#2c56b0"/><rect x="45.97" y="1818.70" width="41.1" height="24.25" fill="#2c56b0"/><rect x="88.84" y="1818.70" width="41.1" height="24.25" fill="#7a91ae"/><rect x="131.71" y="1818.70" width="41.1" height="24.25" fill="#e7ad80"/><rect x="174.58" y="1818.70" width="41.1" height="24.25" fill="#2c56b0"/><rect x="217.45" y="1818.70" width="41.1" height="24.25" fill="#2c56b0"/><rect x="260.32" y="1818.70" width="41.1" height="24.25" fill="#a2afac"/><rect x="303.19" y="1818.70" width="41.1" height="24.25" fill="#5a79af"/><rect x="346.06" y="1818.70" width="41.1" height="24.25" fill="#9baaad"/><rect x="388.93" y="1818.70" width="41.1" height="24.25" fill="#a8b4ac"/><rect x="431.80" y="1818.70" width="41.1" height="24.25" fill="#afb9ac"/><rect x="474.67" y="1818.70" width="41.1" height="24.25" fill="#335bb0"/><rect x="517.54" y="1818.70" width="41.1" height="24.25" fill="#2c56b0"/><rect x="560.41" y="1818.70" width="41.1" height="24.25" fill="#e9bc8b"/><rect x="603.28" y="1818.70" width="41.1" height="24.25" fill="#dd6a53"/><rect x="646.15" y="1818.70" width="41.1" height="24.25" fill="#e3936f"/>
<rect x="3.10" y="1844.65" width="41.1" height="24.25" fill="#335bb0"/><rect x="45.97" y="1844.65" width="41.1" height="24.25" fill="#2c56b0"/><rect x="88.84" y="1844.65" width="41.1" height="24.25" fill="#efe5a7"/><rect x="131.71" y="1844.65" width="41.1" height="24.25" fill="#de7057"/><rect x="174.58" y="1844.65" width="41.1" height="24.25" fill="#2c56b0"/><rect x="217.45" y="1844.65" width="41.1" height="24.25" fill="#2c56b0"/><rect x="260.32" y="1844.65" width="41.1" height="24.25" fill="#afb9ac"/><rect x="303.19" y="1844.65" width="41.1" height="24.25" fill="#6782ae"/><rect x="346.06" y="1844.65" width="41.1" height="24.25" fill="#bcc3ac"/><rect x="388.93" y="1844.65" width="41.1" height="24.25" fill="#c9ccab"/><rect x="431.80" y="1844.65" width="41.1" height="24.25" fill="#b5beac"/><rect x="474.67" y="1844.65" width="41.1" height="24.25" fill="#2c56b0"/><rect x="517.54" y="1844.65" width="41.1" height="24.25" fill="#4065af"/><rect x="560.41" y="1844.65" width="41.1" height="24.25" fill="#e8b284"/><rect x="603.28" y="1844.65" width="41.1" height="24.25" fill="#d8473b"/><rect x="646.15" y="1844.65" width="41.1" height="24.25" fill="#d42d29"/>
<rect x="3.10" y="1870.60" width="41.1" height="24.25" fill="#335bb0"/><rect x="45.97" y="1870.60" width="41.1" height="24.25" fill="#4d6faf"/><rect x="88.84" y="1870.60" width="41.1" height="24.25" fill="#a8b4ac"/><rect x="131.71" y="1870.60" width="41.1" height="24.25" fill="#eee0a3"/><rect x="174.58" y="1870.60" width="41.1" height="24.25" fill="#8ea0ad"/><rect x="217.45" y="1870.60" width="41.1" height="24.25" fill="#7a91ae"/><rect x="260.32" y="1870.60" width="41.1" height="24.25" fill="#e3e0aa"/><rect x="303.19" y="1870.60" width="41.1" height="24.25" fill="#bcc3ac"/><rect x="346.06" y="1870.60" width="41.1" height="24.25" fill="#cfd1ab"/><rect x="388.93" y="1870.60" width="41.1" height="24.25" fill="#d6d6ab"/><rect x="431.80" y="1870.60" width="41.1" height="24.25" fill="#6d87ae"/><rect x="474.67" y="1870.60" width="41.1" height="24.25" fill="#466aaf"/><rect x="517.54" y="1870.60" width="41.1" height="24.25" fill="#607dae"/><rect x="560.41" y="1870.60" width="41.1" height="24.25" fill="#eedba0"/><rect x="603.28" y="1870.60" width="41.1" height="24.25" fill="#e49872"/><rect x="646.15" y="1870.60" width="41.1" height="24.25" fill="#e3936f"/>
<rect x="3.10" y="1896.55" width="41.1" height="24.25" fill="#6782ae"/><rect x="45.97" y="1896.55" width="41.1" height="24.25" fill="#2c56b0"/><rect x="88.84" y="1896.55" width="41.1" height="24.25" fill="#ecd099"/><rect x="131.71" y="1896.55" width="41.1" height="24.25" fill="#e07f61"/><rect x="174.58" y="1896.55" width="41.1" height="24.25" fill="#808080"/><rect x="217.45" y="1896.55" width="41.1" height="24.25" fill="#2c56b0"/><rect x="260.32" y="1896.55" width="41.1" height="24.25" fill="#ecd099"/><rect x="303.19" y="1896.55" width="41.1" height="24.25" fill="#dcdbab"/><rect x="346.06" y="1896.55" width="41.1" height="24.25" fill="#eedba0"/><rect x="388.93" y="1896.55" width="41.1" height="24.25" fill="#eccb95"/><rect x="431.80" y="1896.55" width="41.1" height="24.25" fill="#dcdbab"/><rect x="474.67" y="1896.55" width="41.1" height="24.25" fill="#466aaf"/><rect x="517.54" y="1896.55" width="41.1" height="24.25" fill="#4065af"/><rect x="560.41" y="1896.55" width="41.1" height="24.25" fill="#95a5ad"/><rect x="603.28" y="1896.55" width="41.1" height="24.25" fill="#cfd1ab"/><rect x="646.15" y="1896.55" width="41.1" height="24.25" fill="#e3e0aa"/>
<rect x="3.10" y="1922.50" width="41.1" height="24.25" fill="#2c56b0"/><rect x="45.97" y="1922.50" width="41.1" height="24.25" fill="#2c56b0"/><rect x="88.84" y="1922.50" width="41.1" height="24.25" fill="#8ea0ad"/><rect x="131.71" y="1922.50" width="41.1" height="24.25" fill="#e49872"/><rect x="174.58" y="1922.50" width="41.1" height="24.25" fill="#3960b0"/><rect x="217.45" y="1922.50" width="41.1" height="24.25" fill="#2c56b0"/><rect x="260.32" y="1922.50" width="41.1" height="24.25" fill="#95a5ad"/><rect x="303.19" y="1922.50" width="41.1" height="24.25" fill="#748cae"/><rect x="346.06" y="1922.50" width="41.1" height="24.25" fill="#8ea0ad"/><rect x="388.93" y="1922.50" width="41.1" height="24.25" fill="#a2afac"/><rect x="431.80" y="1922.50" width="41.1" height="24.25" fill="#466aaf"/><rect x="474.67" y="1922.50" width="41.1" height="24.25" fill="#5a79af"/><rect x="517.54" y="1922.50" width="41.1" height="24.25" fill="#748cae"/><rect x="560.41" y="1922.50" width="41.1" height="24.25" fill="#e7ad80"/><rect x="603.28" y="1922.50" width="41.1" height="24.25" fill="#dd6a53"/><rect x="646.15" y="1922.50" width="41.1" height="24.25" fill="#de7057"/>
<rect x="3.10" y="1948.45" width="41.1" height="24.25" fill="#6782ae"/><rect x="45.97" y="1948.45" width="41.1" height="24.25" fill="#3960b0"/><rect x="88.84" y="1948.45" width="41.1" height="24.25" fill="#335bb0"/><rect x="131.71" y="1948.45" width="41.1" height="24.25" fill="#335bb0"/><rect x="174.58" y="1948.45" width="41.1" height="24.25" fill="#335bb0"/><rect x="217.45" y="1948.45" width="41.1" height="24.25" fill="#4065af"/><rect x="260.32" y="1948.45" width="41.1" height="24.25" fill="#466aaf"/><rect x="303.19" y="1948.45" width="41.1" height="24.25" fill="#4065af"/><rect x="346.06" y="1948.45" width="41.1" height="24.25" fill="#2c56b0"/><rect x="388.93" y="1948.45" width="41.1" height="24.25" fill="#3960b0"/><rect x="431.80" y="1948.45" width="41.1" height="24.25" fill="#2c56b0"/><rect x="474.67" y="1948.45" width="41.1" height="24.25" fill="#2c56b0"/><rect x="517.54" y="1948.45" width="41.1" height="24.25" fill="#2c56b0"/><rect x="560.41" y="1948.45" width="41.1" height="24.25" fill="#2c56b0"/><rect x="603.28" y="1948.45" width="41.1" height="24.25" fill="#2c56b0"/><rect x="646.15" y="1948.45" width="41.1" height="24.25" fill="#5a79af"/>
<rect x="3.10" y="1974.40" width="41.1" height="24.25" fill="#2c56b0"/><rect x="45.97" y="1974.40" width="41.1" height="24.25" fill="#2c56b0"/><rect x="88.84" y="1974.40" width="41.1" height="24.25" fill="#e9bc8b"/><rect x="131.71" y="1974.40" width="41.1" height="24.25" fill="#e18464"/><rect x="174.58" y="1974.40" width="41.1" height="24.25" fill="#2c56b0"/><rect x="217.45" y="1974.40" width="41.1" height="24.25" fill="#2c56b0"/><rect x="260.32" y="1974.40" width="41.1" height="24.25" fill="#eac18e"/><rect x="303.19" y="1974.40" width="41.1" height="24.25" fill="#efe5a7"/><rect x="346.06" y="1974.40" width="41.1" height="24.25" fill="#eccb95"/><rect x="388.93" y="1974.40" width="41.1" height="24.25" fill="#eccb95"/><rect x="431.80" y="1974.40" width="41.1" height="24.25" fill="#bcc3ac"/><rect x="474.67" y="1974.40" width="41.1" height="24.25" fill="#2c56b0"/><rect x="517.54" y="1974.40" width="41.1" height="24.25" fill="#a2afac"/><rect x="560.41" y="1974.40" width="41.1" height="24.25" fill="#dd6a53"/><rect x="603.28" y="1974.40" width="41.1" height="24.25" fill="#d63d34"/><rect x="646.15" y="1974.40" width="41.1" height="24.25" fill="#d5322d"/>
<rect x="3.10" y="2000.35" width="41.1" height="24.25" fill="#2c56b0"/><rect x="45.97" y="2000.35" width="41.1" height="24.25" fill="#2c56b0"/><rect x="88.84" y="2000.35" width="41.1" height="24.25" fill="#7a91ae"/><rect x="131.71" y="2000.35" width="41.1" height="24.25" fill="#2c56b0"/><rect x="174.58" y="2000.35" width="41.1" height="24.25" fill="#e6a87d"/><rect x="217.45" y="2000.35" width="41.1" height="24.25" fill="#eac18e"/><rect x="260.32" y="2000.35" width="41.1" height="24.25" fill="#e49872"/><rect x="303.19" y="2000.35" width="41.1" height="24.25" fill="#e59e76"/><rect x="346.06" y="2000.35" width="41.1" height="24.25" fill="#e59e76"/><rect x="388.93" y="2000.35" width="41.1" height="24.25" fill="#e28e6b"/><rect x="431.80" y="2000.35" width="41.1" height="24.25" fill="#e8b284"/><rect x="474.67" y="2000.35" width="41.1" height="24.25" fill="#2c56b0"/><rect x="517.54" y="2000.35" width="41.1" height="24.25" fill="#5a79af"/><rect x="560.41" y="2000.35" width="41.1" height="24.25" fill="#f0eaaa"/><rect x="603.28" y="2000.35" width="41.1" height="24.25" fill="#e49872"/><rect x="646.15" y="2000.35" width="41.1" height="24.25" fill="#b5beac"/>
<rect x="3.10" y="2026.30" width="41.1" height="24.25" fill="#2c56b0"/><rect x="45.97" y="2026.30" width="41.1" height="24.25" fill="#2c56b0"/><rect x="88.84" y="2026.30" width="41.1" height="24.25" fill="#5374af"/><rect x="131.71" y="2026.30" width="41.1" height="24.25" fill="#4065af"/><rect x="174.58" y="2026.30" width="41.1" height="24.25" fill="#6782ae"/><rect x="217.45" y="2026.30" width="41.1" height="24.25" fill="#335bb0"/><rect x="260.32" y="2026.30" width="41.1" height="24.25" fill="#a8b4ac"/><rect x="303.19" y="2026.30" width="41.1" height="24.25" fill="#9baaad"/><rect x="346.06" y="2026.30" width="41.1" height="24.25" fill="#a8b4ac"/><rect x="388.93" y="2026.30" width="41.1" height="24.25" fill="#c9ccab"/><rect x="431.80" y="2026.30" width="41.1" height="24.25" fill="#4065af"/><rect x="474.67" y="2026.30" width="41.1" height="24.25" fill="#2c56b0"/><rect x="517.54" y="2026.30" width="41.1" height="24.25" fill="#4d6faf"/><rect x="560.41" y="2026.30" width="41.1" height="24.25" fill="#5a79af"/><rect x="603.28" y="2026.30" width="41.1" height="24.25" fill="#afb9ac"/><rect x="646.15" y="2026.30" width="41.1" height="24.25" fill="#a2afac"/>
<rect x="3.10" y="2052.25" width="41.1" height="24.25" fill="#808080"/><rect x="45.97" y="2052.25" width="41.1" height="24.25" fill="#2c56b0"/><rect x="88.84" y="2052.25" width="41.1" height="24.25" fill="#e3e0aa"/><rect x="131.71" y="2052.25" width="41.1" height="24.25" fill="#cfd1ab"/><rect x="174.58" y="2052.25" width="41.1" height="24.25" fill="#e9bc8b"/><rect x="217.45" y="2052.25" width="41.1" height="24.25" fill="#c2c7ab"/><rect x="260.32" y="2052.25" width="41.1" height="24.25" fill="#e49872"/><rect x="303.19" y="2052.25" width="41.1" height="24.25" fill="#e6a379"/><rect x="346.06" y="2052.25" width="41.1" height="24.25" fill="#e6a379"/><rect x="388.93" y="2052.25" width="41.1" height="24.25" fill="#e49872"/><rect x="431.80" y="2052.25" width="41.1" height="24.25" fill="#dcdbab"/><rect x="474.67" y="2052.25" width="41.1" height="24.25" fill="#466aaf"/><rect x="517.54" y="2052.25" width="41.1" height="24.25" fill="#a2afac"/><rect x="560.41" y="2052.25" width="41.1" height="24.25" fill="#dc6550"/><rect x="603.28" y="2052.25" width="41.1" height="24.25" fill="#d94c3e"/><rect x="646.15" y="2052.25" width="41.1" height="24.25" fill="#de7057"/>
<rect x="3.10" y="2078.20" width="41.1" height="24.25" fill="#2c56b0"/><rect x="45.97" y="2078.20" width="41.1" height="24.25" fill="#2c56b0"/><rect x="88.84" y="2078.20" width="41.1" height="24.25" fill="#95a5ad"/><rect x="131.71" y="2078.20" width="41.1" height="24.25" fill="#879bad"/><rect x="174.58" y="2078.20" width="41.1" height="24.25" fill="#e28e6b"/><rect x="217.45" y="2078.20" width="41.1" height="24.25" fill="#e49872"/><rect x="260.32" y="2078.20" width="41.1" height="24.25" fill="#de7057"/><rect x="303.19" y="2078.20" width="41.1" height="24.25" fill="#e07a5e"/><rect x="346.06" y="2078.20" width="41.1" height="24.25" fill="#e07a5e"/><rect x="388.93" y="2078.20" width="41.1" height="24.25" fill="#dd6a53"/><rect x="431.80" y="2078.20" width="41.1" height="24.25" fill="#e49872"/><rect x="474.67" y="2078.20" width="41.1" height="24.25" fill="#2c56b0"/><rect x="517.54" y="2078.20" width="41.1" height="24.25" fill="#9baaad"/><rect x="560.41" y="2078.20" width="41.1" height="24.25" fill="#cfd1ab"/><rect x="603.28" y="2078.20" width="41.1" height="24.25" fill="#f0eaaa"/><rect x="646.15" y="2078.20" width="41.1" height="24.25" fill="#d6d6ab"/>
<rect x="3.10" y="2104.15" width="41.1" height="24.25" fill="#808080"/><rect x="45.97" y="2104.15" width="41.1" height="24.25" fill="#466aaf"/><rect x="88.84" y="2104.15" width="41.1" height="24.25" fill="#cfd1ab"/><rect x="131.71" y="2104.15" width="41.1" height="24.25" fill="#8ea0ad"/><rect x="174.58" y="2104.15" width="41.1" height="24.25" fill="#efe5a7"/><rect x="217.45" y="2104.15" width="41.1" height="24.25" fill="#c2c7ab"/><rect x="260.32" y="2104.15" width="41.1" height="24.25" fill="#e07a5e"/><rect x="303.19" y="2104.15" width="41.1" height="24.25" fill="#e07a5e"/><rect x="346.06" y="2104.15" width="41.1" height="24.25" fill="#e07a5e"/><rect x="388.93" y="2104.15" width="41.1" height="24.25" fill="#df755a"/><rect x="431.80" y="2104.15" width="41.1" height="24.25" fill="#cfd1ab"/><rect x="474.67" y="2104.15" width="41.1" height="24.25" fill="#2c56b0"/><rect x="517.54" y="2104.15" width="41.1" height="24.25" fill="#2c56b0"/><rect x="560.41" y="2104.15" width="41.1" height="24.25" fill="#de7057"/><rect x="603.28" y="2104.15" width="41.1" height="24.25" fill="#95a5ad"/><rect x="646.15" y="2104.15" width="41.1" height="24.25" fill="#8196ad"/>
<rect x="3.10" y="2130.10" width="41.1" height="24.25" fill="#808080"/><rect x="45.97" y="2130.10" width="41.1" height="24.25" fill="#4d6faf"/><rect x="88.84" y="2130.10" width="41.1" height="24.25" fill="#cfd1ab"/><rect x="131.71" y="2130.10" width="41.1" height="24.25" fill="#8ea0ad"/><rect x="174.58" y="2130.10" width="41.1" height="24.25" fill="#e59e76"/><rect x="217.45" y="2130.10" width="41.1" height="24.25" fill="#e7ad80"/><rect x="260.32" y="2130.10" width="41.1" height="24.25" fill="#e49872"/><rect x="303.19" y="2130.10" width="41.1" height="24.25" fill="#e59e76"/><rect x="346.06" y="2130.10" width="41.1" height="24.25" fill="#e59e76"/><rect x="388.93" y="2130.10" width="41.1" height="24.25" fill="#e3936f"/><rect x="431.80" y="2130.10" width="41.1" height="24.25" fill="#e6a379"/><rect x="474.67" y="2130.10" width="41.1" height="24.25" fill="#2c56b0"/><rect x="517.54" y="2130.10" width="41.1" height="24.25" fill="#4065af"/><rect x="560.41" y="2130.10" width="41.1" height="24.25" fill="#3960b0"/><rect x="603.28" y="2130.10" width="41.1" height="24.25" fill="#3960b0"/><rect x="646.15" y="2130.10" width="41.1" height="24.25" fill="#2c56b0"/>
<rect x="3.10" y="2156.05" width="41.1" height="24.25" fill="#2c56b0"/><rect x="45.97" y="2156.05" width="41.1" height="24.25" fill="#335bb0"/><rect x="88.84" y="2156.05" width="41.1" height="24.25" fill="#8ea0ad"/><rect x="131.71" y="2156.05" width="41.1" height="24.25" fill="#2c56b0"/><rect x="174.58" y="2156.05" width="41.1" height="24.25" fill="#e49872"/><rect x="217.45" y="2156.05" width="41.1" height="24.25" fill="#eac18e"/><rect x="260.32" y="2156.05" width="41.1" height="24.25" fill="#df755a"/><rect x="303.19" y="2156.05" width="41.1" height="24.25" fill="#e07a5e"/><rect x="346.06" y="2156.05" width="41.1" height="24.25" fill="#df755a"/><rect x="388.93" y="2156.05" width="41.1" height="24.25" fill="#de7057"/><rect x="431.80" y="2156.05" width="41.1" height="24.25" fill="#eccb95"/><rect x="474.67" y="2156.05" width="41.1" height="24.25" fill="#2c56b0"/><rect x="517.54" y="2156.05" width="41.1" height="24.25" fill="#4065af"/><rect x="560.41" y="2156.05" width="41.1" height="24.25" fill="#eccb95"/><rect x="603.28" y="2156.05" width="41.1" height="24.25" fill="#e59e76"/><rect x="646.15" y="2156.05" width="41.1" height="24.25" fill="#f0eaaa"/>
<rect x="3.10" y="2182.00" width="41.1" height="24.25" fill="#5374af"/><rect x="45.97" y="2182.00" width="41.1" height="24.25" fill="#3960b0"/><rect x="88.84" y="2182.00" width="41.1" height="24.25" fill="#2c56b0"/><rect x="131.71" y="2182.00" width="41.1" height="24.25" fill="#2c56b0"/><rect x="174.58" y="2182.00" width="41.1" height="24.25" fill="#466aaf"/><rect x="217.45" y="2182.00" width="41.1" height="24.25" fill="#4065af"/><rect x="260.32" y="2182.00" width="41.1" height="24.25" fill="#95a5ad"/><rect x="303.19" y="2182.00" width="41.1" height="24.25" fill="#df755a"/><rect x="346.06" y="2182.00" width="41.1" height="24.25" fill="#a2afac"/><rect x="388.93" y="2182.00" width="41.1" height="24.25" fill="#a2afac"/><rect x="431.80" y="2182.00" width="41.1" height="24.25" fill="#8196ad"/><rect x="474.67" y="2182.00" width="41.1" height="24.25" fill="#2c56b0"/><rect x="517.54" y="2182.00" width="41.1" height="24.25" fill="#7a91ae"/><rect x="560.41" y="2182.00" width="41.1" height="24.25" fill="#bcc3ac"/><rect x="603.28" y="2182.00" width="41.1" height="24.25" fill="#c9ccab"/><rect x="646.15" y="2182.00" width="41.1" height="24.25" fill="#bcc3ac"/>
<rect x="3.10" y="2207.95" width="41.1" height="24.25" fill="#6782ae"/><rect x="45.97" y="2207.95" width="41.1" height="24.25" fill="#2c56b0"/><rect x="88.84" y="2207.95" width="41.1" height="24.25" fill="#2c56b0"/><rect x="131.71" y="2207.95" width="41.1" height="24.25" fill="#335bb0"/><rect x="174.58" y="2207.95" width="41.1" height="24.25" fill="#6d87ae"/><rect x="217.45" y="2207.95" width="41.1" height="24.25" fill="#6782ae"/><rect x="260.32" y="2207.95" width="41.1" height="24.25" fill="#879bad"/><rect x="303.19" y="2207.95" width="41.1" height="24.25" fill="#8ea0ad"/><rect x="346.06" y="2207.95" width="41.1" height="24.25" fill="#95a5ad"/><rect x="388.93" y="2207.95" width="41.1" height="24.25" fill="#95a5ad"/><rect x="431.80" y="2207.95" width="41.1" height="24.25" fill="#a2afac"/><rect x="474.67" y="2207.95" width="41.1" height="24.25" fill="#4d6faf"/><rect x="517.54" y="2207.95" width="41.1" height="24.25" fill="#8196ad"/><rect x="560.41" y="2207.95" width="41.1" height="24.25" fill="#c9ccab"/><rect x="603.28" y="2207.95" width="41.1" height="24.25" fill="#cfd1ab"/><rect x="646.15" y="2207.95" width="41.1" height="24.25" fill="#a8b4ac"/>
</g>
<g class="rl">
<text x="700.4" y="26.50">TaLEA_1-1,2,3</text>
<text x="700.4" y="52.49">TaLEA_1-4,7,14,16</text>
<text x="700.4" y="78.49">TaLEA_1-5</text>
<text x="700.4" y="104.48">TaLEA_1-6,11</text>
<text x="700.4" y="130.47">TaLEA_1-8</text>
<text x="700.4" y="156.47">TaLEA_1-9</text>
<text x="700.4" y="182.46">TaLEA_1-10</text>
<text x="700.4" y="208.45">TaLEA_1-12,15</text>
<text x="700.4" y="234.44">TaLEA_1-13</text>
<text x="700.4" y="260.44">TaLEA_2-1,25,46</text>
<text x="700.4" y="286.43">TaLEA_2-2,3,4</text>
<text x="700.4" y="312.42">TaLEA_2-5,11</text>
<text x="700.4" y="338.42">TaLEA_2-6,15</text>
<text x="700.4" y="364.41">TaLEA_2-7,14</text>
<text x="700.4" y="390.40">TaLEA_2-8</text>
<text x="700.4" y="416.39">TaLEA_2-9,19,33,41</text>
<text x="700.4" y="442.39">TaLEA_2-10,17,48</text>
<text x="700.4" y="468.38">TaLEA_2-12</text>
<text x="700.4" y="494.37">TaLEA_2-13</text>
<text x="700.4" y="520.37">TaLEA_2-16,18</text>
<text x="700.4" y="546.36">TaLEA_2-20,21</text>
<text x="700.4" y="572.35">TaLEA_2-22</text>
<text x="700.4" y="598.35">TaLEA_2-23,36,28,31,42,47</text>
<text x="700.4" y="624.34">TaLEA_2-24,34</text>
<text x="700.4" y="650.33">TaLEA_2-27,29,49</text>
<text x="700.4" y="676.32">TaLEA_2-30</text>
<text x="700.4" y="702.32">TaLEA_2-32,35,38,39</text>
<text x="700.4" y="728.31">TaLEA_2-36</text>
<text x="700.4" y="754.30">TaLEA_2-37,43</text>
<text x="700.4" y="780.30">TaLEA_2-40</text>
<text x="700.4" y="806.29">TaLEA_2-44</text>
<text x="700.4" y="832.28">TaLEA_2-45</text>
<text x="700.4" y="858.28">TaLEA_3-1,2,3,4,5</text>
<text x="700.4" y="884.27">TaLEA_3-6</text>
<text x="700.4" y="910.26">TaLEA_3-7,11</text>
<text x="700.4" y="936.25">TaLEA_3-8</text>
<text x="700.4" y="962.25">TaLEA_3-9</text>
<text x="700.4" y="988.24">TaLEA_3-10</text>
<text x="700.4" y="1014.23">TaLEA_3-12</text>
<text x="700.4" y="1040.23">TaLEA_3-13,14,15</text>
<text x="700.4" y="1066.22">TaLEA_4-1</text>
<text x="700.4" y="1092.21">TaLEA_4-2,4,5,7</text>
<text x="700.4" y="1118.21">TaLEA_4-3,10</text>
<text x="700.4" y="1144.20">TaLEA_4-6,13</text>
<text x="700.4" y="1170.19">TaLEA_4-8</text>
<text x="700.4" y="1196.18">TaLEA_4-9,11,12</text>
<text x="700.4" y="1222.18">TaLEA_4-14,15,16</text>
<text x="700.4" y="1248.17">TaLEA_4-17,18,19</text>
<text x="700.4" y="1274.16">TaLEA_4-20,21,22</text>
<text x="700.4" y="1300.16">TaLEA_4-24</text>
<text x="700.4" y="1326.15">TaLEA_4-23</text>
<text x="700.4" y="1352.14">TaLEA_5-1,6,9</text>
<text x="700.4" y="1378.14">TaLEA_5-3,5</text>
<text x="700.4" y="1404.13">TaLEA_5-4,8</text>
<text x="700.4" y="1430.12">TaLEA_5-7,11</text>
<text x="700.4" y="1456.12">TaLEA_5-12,13</text>
<text x="700.4" y="1482.11">TaLEA_5-2,10</text>
<text x="700.4" y="1508.10">TaLEA_6-1,3</text>
<text x="700.4" y="1534.09">TaLEA_6-2</text>
<text x="700.4" y="1559.90">TaSMP1,2,3</text>
<text x="700.4" y="1585.90">TaSMP4,7</text>
<text x="700.4" y="1611.10">TaSMP5,6</text>
<text x="700.4" y="1636.20">TaSMP8</text>
<text x="700.4" y="1662.00">TaSMP9</text>
<text x="700.4" y="1687.40">TaDHN1.3.4</text>
<text x="700.4" y="1715.20">TaDHN2,5</text>
<text x="700.4" y="1739.70">TaDHN6</text>
<text x="700.4" y="1765.50">TaDHN7</text>
<text x="700.4" y="1793.30">TaDHN8,10,11</text>
<text x="700.4" y="1819.30">TaDHN9,12,13,16,17</text>
<text x="700.4" y="1845.30">TaDHN14,15,34</text>
<text x="700.4" y="1871.50">TaDHN18,23,31</text>
<text x="700.4" y="1897.50">TaDHN19,25</text>
<text x="700.4" y="1923.50">TaDHN20,24,29,30,32,33</text>
<text x="700.4" y="1949.40">TaDHN21,26</text>
<text x="700.4" y="1975.40">TaDHN22,27,35</text>
<text x="700.4" y="1999.80">TaDHN28</text>
<text x="700.4" y="2027.60">TaDHN36,37,46</text>
<text x="700.4" y="2053.20">TaDHN38,39</text>
<text x="700.4" y="2079.20">TaDHN40,44,45</text>
<text x="700.4" y="2103.90">TaDHN41</text>
<text x="700.4" y="2129.70">TaDHN42</text>
<text x="700.4" y="2155.30">TaDHN43</text>
<text x="700.4" y="2181.30">TaDHN47</text>
<text x="700.4" y="2209.10">TaDHN48,50</text>
<text x="700.4" y="2232.90">TaDHN49</text>
</g>
<g class="ax" text-anchor="middle">
<text x="20.7" y="2260.4">1h</text><text x="64.2" y="2260.4">24 h</text><text x="109.2" y="2260.4">1h</text><text x="150" y="2260.4">2h</text><text x="191" y="2260.4">2d</text><text x="233.3" y="2260.4">14d</text><text x="279.5" y="2260.4">21d</text><text x="320.5" y="2260.4">35d</text><text x="368" y="2260.4">42d</text><text x="409.6" y="2260.4">56d</text><text x="451.2" y="2260.4">70d</text><text x="492.5" y="2260.4">1d</text><text x="539" y="2260.4">2d</text><text x="580.6" y="2260.4">3d</text><text x="628" y="2260.4">4d</text><text x="669" y="2260.4">5d</text>
<text x="44.3" y="2289.8">Heat</text><text x="126.5" y="2289.8">Salt</text><text x="318.5" y="2289.8">Cold</text><text x="607" y="2289.8">Drought</text>
</g>
<rect x="4.4" y="2270.5" width="82.6" height="2.1" fill="#000"/><rect x="93.9" y="2270.5" width="77.1" height="2.1" fill="#000"/><rect x="178" y="2270.5" width="293.0" height="2.1" fill="#000"/><rect x="478.5" y="2270.5" width="211.1" height="2.1" fill="#000"/>
<rect x="109.0" y="2243.0" width="1.4" height="1.5" fill="#222"/><rect x="151.9" y="2243.0" width="1.4" height="1.5" fill="#222"/><rect x="192.3" y="2243.0" width="1.4" height="1.5" fill="#222"/><rect x="235.0" y="2243.0" width="1.4" height="1.5" fill="#222"/><rect x="278.1" y="2243.0" width="1.4" height="1.5" fill="#222"/><rect x="319.3" y="2243.0" width="1.4" height="1.5" fill="#222"/><rect x="365.3" y="2243.0" width="1.4" height="1.5" fill="#222"/><rect x="406.9" y="2243.0" width="1.4" height="1.5" fill="#222"/><rect x="449.3" y="2243.0" width="1.4" height="1.5" fill="#222"/><rect x="490.5" y="2243.0" width="1.4" height="1.5" fill="#222"/><rect x="534.3" y="2243.0" width="1.4" height="1.5" fill="#222"/><rect x="576.7" y="2243.0" width="1.4" height="1.5" fill="#222"/><rect x="621.6" y="2243.0" width="1.4" height="1.5" fill="#222"/><rect x="662.3" y="2243.0" width="1.4" height="1.5" fill="#222"/>
<rect x="978.1" y="1668.8" width="2.4" height="322.9" fill="#000"/><rect x="978.1" y="2009.7" width="2.4" height="166.5" fill="#000"/><rect x="978.1" y="2188.7" width="2.4" height="46.3" fill="#000"/>
<g class="gp"><text x="985.7" y="1838.4">YnSKn</text><text x="985.7" y="2090.8">Kn</text><text x="985.7" y="2218.5">SKn</text></g>
<rect x="1007.9" y="36.3" width="34" height="267.5" fill="url(#cbg)"/>
<g class="cb"><text x="1051.2" y="47.7">3.50</text><text x="1051.2" y="85.7">3.00</text><text x="1051.2" y="123.8">2.50</text><text x="1051.2" y="161.8">2.00</text><text x="1051.2" y="199.9">1.50</text><text x="1051.2" y="237.9">1.00</text><text x="1051.2" y="275.9">0.50</text><text x="1051.2" y="314.0">0.00</text></g>
</svg>
</body></html>
